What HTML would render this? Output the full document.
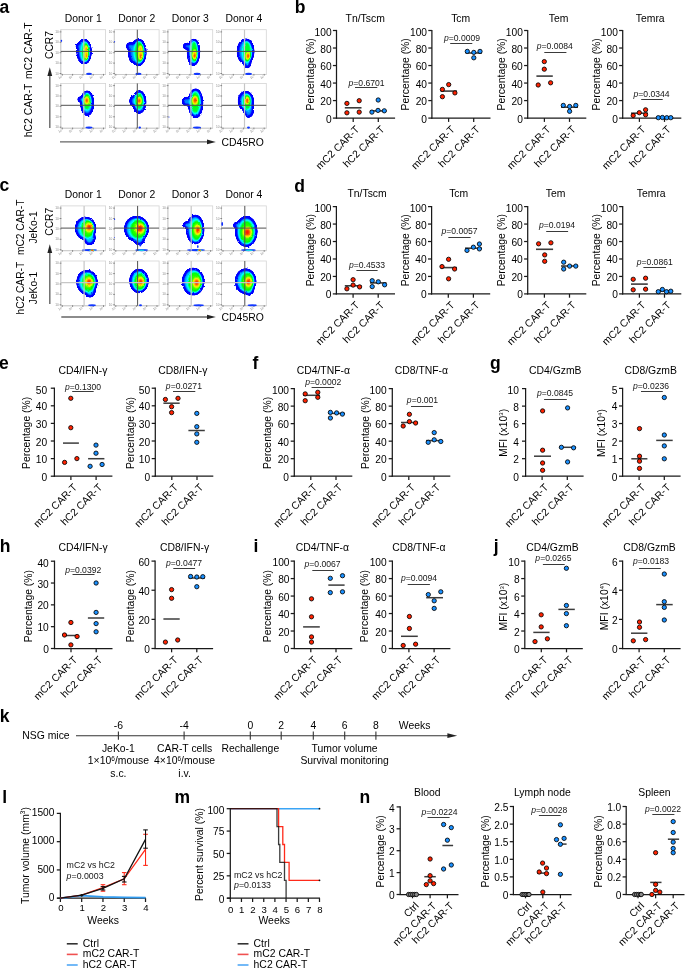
<!DOCTYPE html>
<html><head><meta charset="utf-8"><title>Figure</title>
<style>
html,body{margin:0;padding:0;background:#fff;}
body{width:685px;height:968px;overflow:hidden;}
svg{display:block;font-family:"Liberation Sans", sans-serif;will-change:transform;}
</style></head><body>
<svg width="685" height="968" viewBox="0 0 685 968">

<defs>
<filter id="jet" x="-40%" y="-40%" width="180%" height="180%" color-interpolation-filters="sRGB">
  <feGaussianBlur in="SourceGraphic" stdDeviation="1.0" result="b"/>
  <feTurbulence type="fractalNoise" baseFrequency="0.45" numOctaves="2" seed="7" result="t"/>
  <feDisplacementMap in="b" in2="t" scale="2.2" xChannelSelector="R" yChannelSelector="G" result="bd"/>
  <feColorMatrix in="bd" type="matrix" values="0 0 0 1 0  0 0 0 1 0  0 0 0 1 0  0 0 0 1 0" result="d"/>
  <feComponentTransfer in="d">
    <feFuncR type="table" tableValues="0 0 0 0 0 0 0 0 0 0 0 0 0 0 0.4 0.85 1 1 1 1 1"/>
    <feFuncG type="table" tableValues="0 0 0 0 0 0 0.1 0.3 0.55 0.8 1 1 1 1 1 1 0.85 0.6 0.3 0.1 0"/>
    <feFuncB type="table" tableValues="1 1 1 1 1 1 1 1 1 1 1 0.7 0.35 0 0 0 0 0 0 0 0"/>
    <feFuncA type="table" tableValues="0 0 1 1 1 1 1 1 1 1 1 1 1 1 1 1 1 1 1 1 1 1 1 1 1 1 1 1 1 1 1 1 1 1 1 1 1 1 1 1"/>
  </feComponentTransfer>
</filter>
</defs>

<rect width="685" height="968" fill="#fff"/>
<text x="-0.6" y="12.5" font-size="17.5" font-weight="bold" fill="#000">a</text>
<text x="294.8" y="12.5" font-size="17.5" font-weight="bold" fill="#000">b</text>
<text x="-0.6" y="191.4" font-size="17.5" font-weight="bold" fill="#000">c</text>
<text x="294.3" y="191.6" font-size="17.5" font-weight="bold" fill="#000">d</text>
<text x="-1" y="369" font-size="17.5" font-weight="bold" fill="#000">e</text>
<text x="252.6" y="368.9" font-size="17.5" font-weight="bold" fill="#000">f</text>
<text x="490" y="369.2" font-size="17.5" font-weight="bold" fill="#000">g</text>
<text x="-0.3" y="551.8" font-size="17.5" font-weight="bold" fill="#000">h</text>
<text x="253.6" y="551.6" font-size="17.5" font-weight="bold" fill="#000">i</text>
<text x="493.8" y="551.6" font-size="17.5" font-weight="bold" fill="#000">j</text>
<text x="-0.3" y="721.5" font-size="17.5" font-weight="bold" fill="#000">k</text>
<text x="2.3" y="802.7" font-size="17.5" font-weight="bold" fill="#000">l</text>
<text x="174.6" y="802.9" font-size="17.5" font-weight="bold" fill="#000">m</text>
<text x="359.6" y="802.7" font-size="17.5" font-weight="bold" fill="#000">n</text>
<line x1="336.5" y1="29.9" x2="336.5" y2="118.7" stroke="#1a1a1a" stroke-width="1.25"/>
<line x1="335.9" y1="118.1" x2="395.1" y2="118.1" stroke="#1a1a1a" stroke-width="1.25"/>
<line x1="332.9" y1="118.1" x2="336.5" y2="118.1" stroke="#1a1a1a" stroke-width="1.25"/>
<text x="331.6" y="122.6" font-size="10.2" text-anchor="end">0</text>
<line x1="332.9" y1="100.58" x2="336.5" y2="100.58" stroke="#1a1a1a" stroke-width="1.25"/>
<text x="331.6" y="105.08" font-size="10.2" text-anchor="end">20</text>
<line x1="332.9" y1="83.06" x2="336.5" y2="83.06" stroke="#1a1a1a" stroke-width="1.25"/>
<text x="331.6" y="87.56" font-size="10.2" text-anchor="end">40</text>
<line x1="332.9" y1="65.54" x2="336.5" y2="65.54" stroke="#1a1a1a" stroke-width="1.25"/>
<text x="331.6" y="70.04" font-size="10.2" text-anchor="end">60</text>
<line x1="332.9" y1="48.02" x2="336.5" y2="48.02" stroke="#1a1a1a" stroke-width="1.25"/>
<text x="331.6" y="52.52" font-size="10.2" text-anchor="end">80</text>
<line x1="332.9" y1="30.5" x2="336.5" y2="30.5" stroke="#1a1a1a" stroke-width="1.25"/>
<text x="331.6" y="36.2" font-size="10.2" text-anchor="end">100</text>
<line x1="353.2" y1="118.1" x2="353.2" y2="121.9" stroke="#1a1a1a" stroke-width="1.25"/>
<line x1="378.3" y1="118.1" x2="378.3" y2="121.9" stroke="#1a1a1a" stroke-width="1.25"/>
<text x="365.2" y="21.8" font-size="10.4" text-anchor="middle">Tn/Tscm</text>
<text x="314" y="74.3" font-size="10.4" text-anchor="middle" transform="rotate(-90 314 74.3)">Percentage (%)</text>
<line x1="344.8" y1="107.8" x2="361.5" y2="107.8" stroke="#3c3c3c" stroke-width="1.6"/>
<line x1="370" y1="110.9" x2="386.5" y2="110.9" stroke="#3c3c3c" stroke-width="1.6"/>
<circle cx="346.9" cy="103.4" r="2.15" fill="#ff2200" stroke="#000" stroke-width="0.85"/>
<circle cx="359.2" cy="100.7" r="2.15" fill="#ff2200" stroke="#000" stroke-width="0.85"/>
<circle cx="346.9" cy="112.8" r="2.15" fill="#ff2200" stroke="#000" stroke-width="0.85"/>
<circle cx="359.2" cy="112.1" r="2.15" fill="#ff2200" stroke="#000" stroke-width="0.85"/>
<circle cx="378.2" cy="100" r="2.15" fill="#1a90ff" stroke="#000" stroke-width="0.85"/>
<circle cx="371.9" cy="112.1" r="2.15" fill="#1a90ff" stroke="#000" stroke-width="0.85"/>
<circle cx="378" cy="110.4" r="2.15" fill="#1a90ff" stroke="#000" stroke-width="0.85"/>
<circle cx="384.3" cy="110.8" r="2.15" fill="#1a90ff" stroke="#000" stroke-width="0.85"/>
<text x="366.6" y="85.8" font-size="8.6" text-anchor="middle" fill="#151515"><tspan font-style="italic">p</tspan>=0.6701</text>
<line x1="355" y1="87.5" x2="377.3" y2="87.5" stroke="#3a3a3a" stroke-width="1"/>
<text x="360.1" y="130" font-size="10.4" text-anchor="end" transform="rotate(-45 360.1 130)">mC2 CAR-T</text>
<text x="385.2" y="130" font-size="10.4" text-anchor="end" transform="rotate(-45 385.2 130)">hC2 CAR-T</text>
<line x1="431.9" y1="29.9" x2="431.9" y2="118.7" stroke="#1a1a1a" stroke-width="1.25"/>
<line x1="431.3" y1="118.1" x2="490.5" y2="118.1" stroke="#1a1a1a" stroke-width="1.25"/>
<line x1="428.3" y1="118.1" x2="431.9" y2="118.1" stroke="#1a1a1a" stroke-width="1.25"/>
<text x="427" y="122.6" font-size="10.2" text-anchor="end">0</text>
<line x1="428.3" y1="100.58" x2="431.9" y2="100.58" stroke="#1a1a1a" stroke-width="1.25"/>
<text x="427" y="105.08" font-size="10.2" text-anchor="end">20</text>
<line x1="428.3" y1="83.06" x2="431.9" y2="83.06" stroke="#1a1a1a" stroke-width="1.25"/>
<text x="427" y="87.56" font-size="10.2" text-anchor="end">40</text>
<line x1="428.3" y1="65.54" x2="431.9" y2="65.54" stroke="#1a1a1a" stroke-width="1.25"/>
<text x="427" y="70.04" font-size="10.2" text-anchor="end">60</text>
<line x1="428.3" y1="48.02" x2="431.9" y2="48.02" stroke="#1a1a1a" stroke-width="1.25"/>
<text x="427" y="52.52" font-size="10.2" text-anchor="end">80</text>
<line x1="428.3" y1="30.5" x2="431.9" y2="30.5" stroke="#1a1a1a" stroke-width="1.25"/>
<text x="427" y="36.2" font-size="10.2" text-anchor="end">100</text>
<line x1="448.6" y1="118.1" x2="448.6" y2="121.9" stroke="#1a1a1a" stroke-width="1.25"/>
<line x1="473.7" y1="118.1" x2="473.7" y2="121.9" stroke="#1a1a1a" stroke-width="1.25"/>
<text x="460.7" y="21.8" font-size="10.4" text-anchor="middle">Tcm</text>
<text x="409.4" y="74.3" font-size="10.4" text-anchor="middle" transform="rotate(-90 409.4 74.3)">Percentage (%)</text>
<line x1="440.5" y1="91.1" x2="457" y2="91.1" stroke="#3c3c3c" stroke-width="1.6"/>
<line x1="465.5" y1="53" x2="482" y2="53" stroke="#3c3c3c" stroke-width="1.6"/>
<circle cx="442.4" cy="89.4" r="2.15" fill="#ff2200" stroke="#000" stroke-width="0.85"/>
<circle cx="448.7" cy="84.6" r="2.15" fill="#ff2200" stroke="#000" stroke-width="0.85"/>
<circle cx="442.4" cy="96.7" r="2.15" fill="#ff2200" stroke="#000" stroke-width="0.85"/>
<circle cx="454.9" cy="92.9" r="2.15" fill="#ff2200" stroke="#000" stroke-width="0.85"/>
<circle cx="467.3" cy="51.4" r="2.15" fill="#1a90ff" stroke="#000" stroke-width="0.85"/>
<circle cx="473.8" cy="52.4" r="2.15" fill="#1a90ff" stroke="#000" stroke-width="0.85"/>
<circle cx="480" cy="51.4" r="2.15" fill="#1a90ff" stroke="#000" stroke-width="0.85"/>
<circle cx="473.8" cy="57.8" r="2.15" fill="#1a90ff" stroke="#000" stroke-width="0.85"/>
<text x="462" y="40.9" font-size="8.6" text-anchor="middle" fill="#151515"><tspan font-style="italic">p</tspan>=0.0009</text>
<line x1="450.2" y1="43.5" x2="472.3" y2="43.5" stroke="#3a3a3a" stroke-width="1"/>
<text x="455.5" y="130" font-size="10.4" text-anchor="end" transform="rotate(-45 455.5 130)">mC2 CAR-T</text>
<text x="480.6" y="130" font-size="10.4" text-anchor="end" transform="rotate(-45 480.6 130)">hC2 CAR-T</text>
<line x1="527.7" y1="29.9" x2="527.7" y2="118.7" stroke="#1a1a1a" stroke-width="1.25"/>
<line x1="527.1" y1="118.1" x2="586.3" y2="118.1" stroke="#1a1a1a" stroke-width="1.25"/>
<line x1="524.1" y1="118.1" x2="527.7" y2="118.1" stroke="#1a1a1a" stroke-width="1.25"/>
<text x="522.8" y="122.6" font-size="10.2" text-anchor="end">0</text>
<line x1="524.1" y1="100.58" x2="527.7" y2="100.58" stroke="#1a1a1a" stroke-width="1.25"/>
<text x="522.8" y="105.08" font-size="10.2" text-anchor="end">20</text>
<line x1="524.1" y1="83.06" x2="527.7" y2="83.06" stroke="#1a1a1a" stroke-width="1.25"/>
<text x="522.8" y="87.56" font-size="10.2" text-anchor="end">40</text>
<line x1="524.1" y1="65.54" x2="527.7" y2="65.54" stroke="#1a1a1a" stroke-width="1.25"/>
<text x="522.8" y="70.04" font-size="10.2" text-anchor="end">60</text>
<line x1="524.1" y1="48.02" x2="527.7" y2="48.02" stroke="#1a1a1a" stroke-width="1.25"/>
<text x="522.8" y="52.52" font-size="10.2" text-anchor="end">80</text>
<line x1="524.1" y1="30.5" x2="527.7" y2="30.5" stroke="#1a1a1a" stroke-width="1.25"/>
<text x="522.8" y="36.2" font-size="10.2" text-anchor="end">100</text>
<line x1="544.4" y1="118.1" x2="544.4" y2="121.9" stroke="#1a1a1a" stroke-width="1.25"/>
<line x1="569.5" y1="118.1" x2="569.5" y2="121.9" stroke="#1a1a1a" stroke-width="1.25"/>
<text x="558.6" y="21.8" font-size="10.4" text-anchor="middle">Tem</text>
<text x="505.2" y="74.3" font-size="10.4" text-anchor="middle" transform="rotate(-90 505.2 74.3)">Percentage (%)</text>
<line x1="536.4" y1="76.1" x2="552.8" y2="76.1" stroke="#3c3c3c" stroke-width="1.6"/>
<line x1="561" y1="107.2" x2="578" y2="107.2" stroke="#3c3c3c" stroke-width="1.6"/>
<circle cx="544.3" cy="61.6" r="2.15" fill="#ff2200" stroke="#000" stroke-width="0.85"/>
<circle cx="544.3" cy="69.2" r="2.15" fill="#ff2200" stroke="#000" stroke-width="0.85"/>
<circle cx="538.2" cy="85" r="2.15" fill="#ff2200" stroke="#000" stroke-width="0.85"/>
<circle cx="550.6" cy="82.8" r="2.15" fill="#ff2200" stroke="#000" stroke-width="0.85"/>
<circle cx="563.3" cy="105.4" r="2.15" fill="#1a90ff" stroke="#000" stroke-width="0.85"/>
<circle cx="569.6" cy="106.5" r="2.15" fill="#1a90ff" stroke="#000" stroke-width="0.85"/>
<circle cx="575.8" cy="105.4" r="2.15" fill="#1a90ff" stroke="#000" stroke-width="0.85"/>
<circle cx="569.6" cy="111.3" r="2.15" fill="#1a90ff" stroke="#000" stroke-width="0.85"/>
<text x="554.8" y="49.2" font-size="8.6" text-anchor="middle" fill="#151515"><tspan font-style="italic">p</tspan>=0.0084</text>
<line x1="544.3" y1="52.5" x2="566.4" y2="52.5" stroke="#3a3a3a" stroke-width="1"/>
<text x="551.3" y="130" font-size="10.4" text-anchor="end" transform="rotate(-45 551.3 130)">mC2 CAR-T</text>
<text x="576.4" y="130" font-size="10.4" text-anchor="end" transform="rotate(-45 576.4 130)">hC2 CAR-T</text>
<line x1="622.7" y1="29.9" x2="622.7" y2="118.7" stroke="#1a1a1a" stroke-width="1.25"/>
<line x1="622.1" y1="118.1" x2="681.3" y2="118.1" stroke="#1a1a1a" stroke-width="1.25"/>
<line x1="619.1" y1="118.1" x2="622.7" y2="118.1" stroke="#1a1a1a" stroke-width="1.25"/>
<text x="617.8" y="122.6" font-size="10.2" text-anchor="end">0</text>
<line x1="619.1" y1="100.58" x2="622.7" y2="100.58" stroke="#1a1a1a" stroke-width="1.25"/>
<text x="617.8" y="105.08" font-size="10.2" text-anchor="end">20</text>
<line x1="619.1" y1="83.06" x2="622.7" y2="83.06" stroke="#1a1a1a" stroke-width="1.25"/>
<text x="617.8" y="87.56" font-size="10.2" text-anchor="end">40</text>
<line x1="619.1" y1="65.54" x2="622.7" y2="65.54" stroke="#1a1a1a" stroke-width="1.25"/>
<text x="617.8" y="70.04" font-size="10.2" text-anchor="end">60</text>
<line x1="619.1" y1="48.02" x2="622.7" y2="48.02" stroke="#1a1a1a" stroke-width="1.25"/>
<text x="617.8" y="52.52" font-size="10.2" text-anchor="end">80</text>
<line x1="619.1" y1="30.5" x2="622.7" y2="30.5" stroke="#1a1a1a" stroke-width="1.25"/>
<text x="617.8" y="36.2" font-size="10.2" text-anchor="end">100</text>
<line x1="639.4" y1="118.1" x2="639.4" y2="121.9" stroke="#1a1a1a" stroke-width="1.25"/>
<line x1="664.5" y1="118.1" x2="664.5" y2="121.9" stroke="#1a1a1a" stroke-width="1.25"/>
<text x="650.2" y="21.8" font-size="10.4" text-anchor="middle">Temra</text>
<text x="600.2" y="74.3" font-size="10.4" text-anchor="middle" transform="rotate(-90 600.2 74.3)">Percentage (%)</text>
<line x1="631" y1="113.2" x2="648" y2="113.2" stroke="#3c3c3c" stroke-width="1.6"/>
<line x1="656" y1="117.6" x2="673" y2="117.6" stroke="#3c3c3c" stroke-width="1.6"/>
<circle cx="633.2" cy="115.5" r="2.15" fill="#ff2200" stroke="#000" stroke-width="0.85"/>
<circle cx="639.3" cy="112.7" r="2.15" fill="#ff2200" stroke="#000" stroke-width="0.85"/>
<circle cx="645.6" cy="109.8" r="2.15" fill="#ff2200" stroke="#000" stroke-width="0.85"/>
<circle cx="645.6" cy="114.8" r="2.15" fill="#ff2200" stroke="#000" stroke-width="0.85"/>
<circle cx="658.3" cy="117.7" r="2.15" fill="#1a90ff" stroke="#000" stroke-width="0.85"/>
<circle cx="662.4" cy="117.5" r="2.15" fill="#1a90ff" stroke="#000" stroke-width="0.85"/>
<circle cx="666.8" cy="117.7" r="2.15" fill="#1a90ff" stroke="#000" stroke-width="0.85"/>
<circle cx="670.8" cy="117.7" r="2.15" fill="#1a90ff" stroke="#000" stroke-width="0.85"/>
<text x="651.6" y="97.1" font-size="8.6" text-anchor="middle" fill="#151515"><tspan font-style="italic">p</tspan>=0.0344</text>
<line x1="641.2" y1="99.5" x2="662.7" y2="99.5" stroke="#3a3a3a" stroke-width="1"/>
<text x="646.3" y="130" font-size="10.4" text-anchor="end" transform="rotate(-45 646.3 130)">mC2 CAR-T</text>
<text x="671.4" y="130" font-size="10.4" text-anchor="end" transform="rotate(-45 671.4 130)">hC2 CAR-T</text>
<line x1="336.4" y1="206" x2="336.4" y2="294.5" stroke="#1a1a1a" stroke-width="1.25"/>
<line x1="335.8" y1="293.9" x2="395" y2="293.9" stroke="#1a1a1a" stroke-width="1.25"/>
<line x1="332.8" y1="293.9" x2="336.4" y2="293.9" stroke="#1a1a1a" stroke-width="1.25"/>
<text x="331.5" y="298.4" font-size="10.2" text-anchor="end">0</text>
<line x1="332.8" y1="276.44" x2="336.4" y2="276.44" stroke="#1a1a1a" stroke-width="1.25"/>
<text x="331.5" y="280.94" font-size="10.2" text-anchor="end">20</text>
<line x1="332.8" y1="258.98" x2="336.4" y2="258.98" stroke="#1a1a1a" stroke-width="1.25"/>
<text x="331.5" y="263.48" font-size="10.2" text-anchor="end">40</text>
<line x1="332.8" y1="241.52" x2="336.4" y2="241.52" stroke="#1a1a1a" stroke-width="1.25"/>
<text x="331.5" y="246.02" font-size="10.2" text-anchor="end">60</text>
<line x1="332.8" y1="224.06" x2="336.4" y2="224.06" stroke="#1a1a1a" stroke-width="1.25"/>
<text x="331.5" y="228.56" font-size="10.2" text-anchor="end">80</text>
<line x1="332.8" y1="206.6" x2="336.4" y2="206.6" stroke="#1a1a1a" stroke-width="1.25"/>
<text x="331.5" y="212.3" font-size="10.2" text-anchor="end">100</text>
<line x1="353.1" y1="293.9" x2="353.1" y2="297.7" stroke="#1a1a1a" stroke-width="1.25"/>
<line x1="378.2" y1="293.9" x2="378.2" y2="297.7" stroke="#1a1a1a" stroke-width="1.25"/>
<text x="367.1" y="197.4" font-size="10.4" text-anchor="middle">Tn/Tscm</text>
<text x="313.9" y="250.25" font-size="10.4" text-anchor="middle" transform="rotate(-90 313.9 250.25)">Percentage (%)</text>
<line x1="344.8" y1="285.8" x2="361.5" y2="285.8" stroke="#3c3c3c" stroke-width="1.6"/>
<line x1="370" y1="282.9" x2="386.5" y2="282.9" stroke="#3c3c3c" stroke-width="1.6"/>
<circle cx="346.9" cy="288.8" r="2.15" fill="#ff2200" stroke="#000" stroke-width="0.85"/>
<circle cx="353.1" cy="279.7" r="2.15" fill="#ff2200" stroke="#000" stroke-width="0.85"/>
<circle cx="353.1" cy="285.1" r="2.15" fill="#ff2200" stroke="#000" stroke-width="0.85"/>
<circle cx="359.6" cy="286.9" r="2.15" fill="#ff2200" stroke="#000" stroke-width="0.85"/>
<circle cx="372.2" cy="280.7" r="2.15" fill="#1a90ff" stroke="#000" stroke-width="0.85"/>
<circle cx="372.2" cy="286.6" r="2.15" fill="#1a90ff" stroke="#000" stroke-width="0.85"/>
<circle cx="378.3" cy="281.8" r="2.15" fill="#1a90ff" stroke="#000" stroke-width="0.85"/>
<circle cx="384.6" cy="284.8" r="2.15" fill="#1a90ff" stroke="#000" stroke-width="0.85"/>
<text x="367" y="267.7" font-size="8.6" text-anchor="middle" fill="#151515"><tspan font-style="italic">p</tspan>=0.4533</text>
<line x1="356.4" y1="270.5" x2="377.6" y2="270.5" stroke="#3a3a3a" stroke-width="1"/>
<text x="360" y="305.8" font-size="10.4" text-anchor="end" transform="rotate(-45 360 305.8)">mC2 CAR-T</text>
<text x="385.1" y="305.8" font-size="10.4" text-anchor="end" transform="rotate(-45 385.1 305.8)">hC2 CAR-T</text>
<line x1="431.6" y1="206" x2="431.6" y2="294.5" stroke="#1a1a1a" stroke-width="1.25"/>
<line x1="431" y1="293.9" x2="490.2" y2="293.9" stroke="#1a1a1a" stroke-width="1.25"/>
<line x1="428" y1="293.9" x2="431.6" y2="293.9" stroke="#1a1a1a" stroke-width="1.25"/>
<text x="426.7" y="298.4" font-size="10.2" text-anchor="end">0</text>
<line x1="428" y1="276.44" x2="431.6" y2="276.44" stroke="#1a1a1a" stroke-width="1.25"/>
<text x="426.7" y="280.94" font-size="10.2" text-anchor="end">20</text>
<line x1="428" y1="258.98" x2="431.6" y2="258.98" stroke="#1a1a1a" stroke-width="1.25"/>
<text x="426.7" y="263.48" font-size="10.2" text-anchor="end">40</text>
<line x1="428" y1="241.52" x2="431.6" y2="241.52" stroke="#1a1a1a" stroke-width="1.25"/>
<text x="426.7" y="246.02" font-size="10.2" text-anchor="end">60</text>
<line x1="428" y1="224.06" x2="431.6" y2="224.06" stroke="#1a1a1a" stroke-width="1.25"/>
<text x="426.7" y="228.56" font-size="10.2" text-anchor="end">80</text>
<line x1="428" y1="206.6" x2="431.6" y2="206.6" stroke="#1a1a1a" stroke-width="1.25"/>
<text x="426.7" y="212.3" font-size="10.2" text-anchor="end">100</text>
<line x1="448.3" y1="293.9" x2="448.3" y2="297.7" stroke="#1a1a1a" stroke-width="1.25"/>
<line x1="473.4" y1="293.9" x2="473.4" y2="297.7" stroke="#1a1a1a" stroke-width="1.25"/>
<text x="458.7" y="197.4" font-size="10.4" text-anchor="middle">Tcm</text>
<text x="409.1" y="250.25" font-size="10.4" text-anchor="middle" transform="rotate(-90 409.1 250.25)">Percentage (%)</text>
<line x1="440.5" y1="267.6" x2="457" y2="267.6" stroke="#3c3c3c" stroke-width="1.6"/>
<line x1="465" y1="248.2" x2="482" y2="248.2" stroke="#3c3c3c" stroke-width="1.6"/>
<circle cx="442" cy="266.6" r="2.15" fill="#ff2200" stroke="#000" stroke-width="0.85"/>
<circle cx="448.6" cy="259.3" r="2.15" fill="#ff2200" stroke="#000" stroke-width="0.85"/>
<circle cx="454.6" cy="269" r="2.15" fill="#ff2200" stroke="#000" stroke-width="0.85"/>
<circle cx="448.6" cy="278.8" r="2.15" fill="#ff2200" stroke="#000" stroke-width="0.85"/>
<circle cx="467" cy="250.4" r="2.15" fill="#1a90ff" stroke="#000" stroke-width="0.85"/>
<circle cx="473.4" cy="247.2" r="2.15" fill="#1a90ff" stroke="#000" stroke-width="0.85"/>
<circle cx="479.4" cy="244" r="2.15" fill="#1a90ff" stroke="#000" stroke-width="0.85"/>
<circle cx="479.4" cy="248.9" r="2.15" fill="#1a90ff" stroke="#000" stroke-width="0.85"/>
<text x="459.5" y="234.2" font-size="8.6" text-anchor="middle" fill="#151515"><tspan font-style="italic">p</tspan>=0.0057</text>
<line x1="448.3" y1="237.5" x2="470.6" y2="237.5" stroke="#3a3a3a" stroke-width="1"/>
<text x="455.2" y="305.8" font-size="10.4" text-anchor="end" transform="rotate(-45 455.2 305.8)">mC2 CAR-T</text>
<text x="480.3" y="305.8" font-size="10.4" text-anchor="end" transform="rotate(-45 480.3 305.8)">hC2 CAR-T</text>
<line x1="527.7" y1="206" x2="527.7" y2="294.5" stroke="#1a1a1a" stroke-width="1.25"/>
<line x1="527.1" y1="293.9" x2="586.3" y2="293.9" stroke="#1a1a1a" stroke-width="1.25"/>
<line x1="524.1" y1="293.9" x2="527.7" y2="293.9" stroke="#1a1a1a" stroke-width="1.25"/>
<text x="522.8" y="298.4" font-size="10.2" text-anchor="end">0</text>
<line x1="524.1" y1="276.44" x2="527.7" y2="276.44" stroke="#1a1a1a" stroke-width="1.25"/>
<text x="522.8" y="280.94" font-size="10.2" text-anchor="end">20</text>
<line x1="524.1" y1="258.98" x2="527.7" y2="258.98" stroke="#1a1a1a" stroke-width="1.25"/>
<text x="522.8" y="263.48" font-size="10.2" text-anchor="end">40</text>
<line x1="524.1" y1="241.52" x2="527.7" y2="241.52" stroke="#1a1a1a" stroke-width="1.25"/>
<text x="522.8" y="246.02" font-size="10.2" text-anchor="end">60</text>
<line x1="524.1" y1="224.06" x2="527.7" y2="224.06" stroke="#1a1a1a" stroke-width="1.25"/>
<text x="522.8" y="228.56" font-size="10.2" text-anchor="end">80</text>
<line x1="524.1" y1="206.6" x2="527.7" y2="206.6" stroke="#1a1a1a" stroke-width="1.25"/>
<text x="522.8" y="212.3" font-size="10.2" text-anchor="end">100</text>
<line x1="544.4" y1="293.9" x2="544.4" y2="297.7" stroke="#1a1a1a" stroke-width="1.25"/>
<line x1="569.5" y1="293.9" x2="569.5" y2="297.7" stroke="#1a1a1a" stroke-width="1.25"/>
<text x="555.6" y="197.4" font-size="10.4" text-anchor="middle">Tem</text>
<text x="505.2" y="250.25" font-size="10.4" text-anchor="middle" transform="rotate(-90 505.2 250.25)">Percentage (%)</text>
<line x1="536" y1="249.3" x2="553.1" y2="249.3" stroke="#3c3c3c" stroke-width="1.6"/>
<line x1="561" y1="266" x2="578" y2="266" stroke="#3c3c3c" stroke-width="1.6"/>
<circle cx="538.6" cy="243.8" r="2.15" fill="#ff2200" stroke="#000" stroke-width="0.85"/>
<circle cx="550.9" cy="242.8" r="2.15" fill="#ff2200" stroke="#000" stroke-width="0.85"/>
<circle cx="544.7" cy="254.9" r="2.15" fill="#ff2200" stroke="#000" stroke-width="0.85"/>
<circle cx="544.7" cy="261.3" r="2.15" fill="#ff2200" stroke="#000" stroke-width="0.85"/>
<circle cx="563.7" cy="262.2" r="2.15" fill="#1a90ff" stroke="#000" stroke-width="0.85"/>
<circle cx="563.7" cy="269" r="2.15" fill="#1a90ff" stroke="#000" stroke-width="0.85"/>
<circle cx="569.6" cy="266.1" r="2.15" fill="#1a90ff" stroke="#000" stroke-width="0.85"/>
<circle cx="575.8" cy="266.1" r="2.15" fill="#1a90ff" stroke="#000" stroke-width="0.85"/>
<text x="557" y="228.3" font-size="8.6" text-anchor="middle" fill="#151515"><tspan font-style="italic">p</tspan>=0.0194</text>
<line x1="546.2" y1="231.5" x2="568.1" y2="231.5" stroke="#3a3a3a" stroke-width="1"/>
<text x="551.3" y="305.8" font-size="10.4" text-anchor="end" transform="rotate(-45 551.3 305.8)">mC2 CAR-T</text>
<text x="576.4" y="305.8" font-size="10.4" text-anchor="end" transform="rotate(-45 576.4 305.8)">hC2 CAR-T</text>
<line x1="622.7" y1="206" x2="622.7" y2="294.5" stroke="#1a1a1a" stroke-width="1.25"/>
<line x1="622.1" y1="293.9" x2="681.3" y2="293.9" stroke="#1a1a1a" stroke-width="1.25"/>
<line x1="619.1" y1="293.9" x2="622.7" y2="293.9" stroke="#1a1a1a" stroke-width="1.25"/>
<text x="617.8" y="298.4" font-size="10.2" text-anchor="end">0</text>
<line x1="619.1" y1="276.44" x2="622.7" y2="276.44" stroke="#1a1a1a" stroke-width="1.25"/>
<text x="617.8" y="280.94" font-size="10.2" text-anchor="end">20</text>
<line x1="619.1" y1="258.98" x2="622.7" y2="258.98" stroke="#1a1a1a" stroke-width="1.25"/>
<text x="617.8" y="263.48" font-size="10.2" text-anchor="end">40</text>
<line x1="619.1" y1="241.52" x2="622.7" y2="241.52" stroke="#1a1a1a" stroke-width="1.25"/>
<text x="617.8" y="246.02" font-size="10.2" text-anchor="end">60</text>
<line x1="619.1" y1="224.06" x2="622.7" y2="224.06" stroke="#1a1a1a" stroke-width="1.25"/>
<text x="617.8" y="228.56" font-size="10.2" text-anchor="end">80</text>
<line x1="619.1" y1="206.6" x2="622.7" y2="206.6" stroke="#1a1a1a" stroke-width="1.25"/>
<text x="617.8" y="212.3" font-size="10.2" text-anchor="end">100</text>
<line x1="639.4" y1="293.9" x2="639.4" y2="297.7" stroke="#1a1a1a" stroke-width="1.25"/>
<line x1="664.5" y1="293.9" x2="664.5" y2="297.7" stroke="#1a1a1a" stroke-width="1.25"/>
<text x="651.2" y="197.4" font-size="10.4" text-anchor="middle">Temra</text>
<text x="600.2" y="250.25" font-size="10.4" text-anchor="middle" transform="rotate(-90 600.2 250.25)">Percentage (%)</text>
<line x1="631" y1="284.1" x2="647.8" y2="284.1" stroke="#3c3c3c" stroke-width="1.6"/>
<line x1="656" y1="290.9" x2="673" y2="290.9" stroke="#3c3c3c" stroke-width="1.6"/>
<circle cx="633.2" cy="279.3" r="2.15" fill="#ff2200" stroke="#000" stroke-width="0.85"/>
<circle cx="645.6" cy="278.2" r="2.15" fill="#ff2200" stroke="#000" stroke-width="0.85"/>
<circle cx="633.2" cy="289.8" r="2.15" fill="#ff2200" stroke="#000" stroke-width="0.85"/>
<circle cx="645.6" cy="289.2" r="2.15" fill="#ff2200" stroke="#000" stroke-width="0.85"/>
<circle cx="658.3" cy="291.7" r="2.15" fill="#1a90ff" stroke="#000" stroke-width="0.85"/>
<circle cx="662.4" cy="289.5" r="2.15" fill="#1a90ff" stroke="#000" stroke-width="0.85"/>
<circle cx="666.5" cy="291.7" r="2.15" fill="#1a90ff" stroke="#000" stroke-width="0.85"/>
<circle cx="670.8" cy="291.2" r="2.15" fill="#1a90ff" stroke="#000" stroke-width="0.85"/>
<text x="654.7" y="264.5" font-size="8.6" text-anchor="middle" fill="#151515"><tspan font-style="italic">p</tspan>=0.0861</text>
<line x1="643.4" y1="267.5" x2="666" y2="267.5" stroke="#3a3a3a" stroke-width="1"/>
<text x="646.3" y="305.8" font-size="10.4" text-anchor="end" transform="rotate(-45 646.3 305.8)">mC2 CAR-T</text>
<text x="671.4" y="305.8" font-size="10.4" text-anchor="end" transform="rotate(-45 671.4 305.8)">hC2 CAR-T</text>
<line x1="54.4" y1="387.6" x2="54.4" y2="476.8" stroke="#1a1a1a" stroke-width="1.25"/>
<line x1="53.8" y1="476.2" x2="112.4" y2="476.2" stroke="#1a1a1a" stroke-width="1.25"/>
<line x1="50.8" y1="476.2" x2="54.4" y2="476.2" stroke="#1a1a1a" stroke-width="1.25"/>
<text x="47.2" y="480.7" font-size="10.2" text-anchor="end">0</text>
<line x1="50.8" y1="458.6" x2="54.4" y2="458.6" stroke="#1a1a1a" stroke-width="1.25"/>
<text x="47.2" y="463.1" font-size="10.2" text-anchor="end">10</text>
<line x1="50.8" y1="441" x2="54.4" y2="441" stroke="#1a1a1a" stroke-width="1.25"/>
<text x="47.2" y="445.5" font-size="10.2" text-anchor="end">20</text>
<line x1="50.8" y1="423.4" x2="54.4" y2="423.4" stroke="#1a1a1a" stroke-width="1.25"/>
<text x="47.2" y="427.9" font-size="10.2" text-anchor="end">30</text>
<line x1="50.8" y1="405.8" x2="54.4" y2="405.8" stroke="#1a1a1a" stroke-width="1.25"/>
<text x="47.2" y="410.3" font-size="10.2" text-anchor="end">40</text>
<line x1="50.8" y1="388.2" x2="54.4" y2="388.2" stroke="#1a1a1a" stroke-width="1.25"/>
<text x="47.2" y="393.5" font-size="10.2" text-anchor="end">50</text>
<line x1="70.9" y1="476.2" x2="70.9" y2="480" stroke="#1a1a1a" stroke-width="1.25"/>
<line x1="96.1" y1="476.2" x2="96.1" y2="480" stroke="#1a1a1a" stroke-width="1.25"/>
<text x="83" y="374.3" font-size="10.4" text-anchor="middle">CD4/IFN-&#947;</text>
<text x="29.9" y="432.9" font-size="10.4" text-anchor="middle" transform="rotate(-90 29.9 432.9)">Percentage (%)</text>
<line x1="63" y1="443.1" x2="78.9" y2="443.1" stroke="#3c3c3c" stroke-width="1.5"/>
<line x1="88.1" y1="458.7" x2="104.4" y2="458.7" stroke="#3c3c3c" stroke-width="1.5"/>
<circle cx="70.8" cy="398.3" r="2.15" fill="#ff2200" stroke="#000" stroke-width="0.85"/>
<circle cx="70.8" cy="427.7" r="2.15" fill="#ff2200" stroke="#000" stroke-width="0.85"/>
<circle cx="64.6" cy="462.4" r="2.15" fill="#ff2200" stroke="#000" stroke-width="0.85"/>
<circle cx="76.9" cy="458.6" r="2.15" fill="#ff2200" stroke="#000" stroke-width="0.85"/>
<circle cx="96" cy="445.1" r="2.15" fill="#1a90ff" stroke="#000" stroke-width="0.85"/>
<circle cx="96" cy="453.2" r="2.15" fill="#1a90ff" stroke="#000" stroke-width="0.85"/>
<circle cx="90.1" cy="466.3" r="2.15" fill="#1a90ff" stroke="#000" stroke-width="0.85"/>
<circle cx="102.1" cy="464.5" r="2.15" fill="#1a90ff" stroke="#000" stroke-width="0.85"/>
<text x="83" y="389.5" font-size="8.6" text-anchor="middle" fill="#151515"><tspan font-style="italic">p</tspan>=0.1300</text>
<line x1="72.2" y1="391.5" x2="93.7" y2="391.5" stroke="#3a3a3a" stroke-width="1"/>
<text x="77.8" y="488.1" font-size="10.4" text-anchor="end" transform="rotate(-45 77.8 488.1)">mC2 CAR-T</text>
<text x="103" y="488.1" font-size="10.4" text-anchor="end" transform="rotate(-45 103 488.1)">hC2 CAR-T</text>
<line x1="155.3" y1="387.6" x2="155.3" y2="476.8" stroke="#1a1a1a" stroke-width="1.25"/>
<line x1="154.7" y1="476.2" x2="213.3" y2="476.2" stroke="#1a1a1a" stroke-width="1.25"/>
<line x1="151.7" y1="476.2" x2="155.3" y2="476.2" stroke="#1a1a1a" stroke-width="1.25"/>
<text x="150.1" y="480.7" font-size="10.2" text-anchor="end">0</text>
<line x1="151.7" y1="458.6" x2="155.3" y2="458.6" stroke="#1a1a1a" stroke-width="1.25"/>
<text x="150.1" y="463.1" font-size="10.2" text-anchor="end">10</text>
<line x1="151.7" y1="441" x2="155.3" y2="441" stroke="#1a1a1a" stroke-width="1.25"/>
<text x="150.1" y="445.5" font-size="10.2" text-anchor="end">20</text>
<line x1="151.7" y1="423.4" x2="155.3" y2="423.4" stroke="#1a1a1a" stroke-width="1.25"/>
<text x="150.1" y="427.9" font-size="10.2" text-anchor="end">30</text>
<line x1="151.7" y1="405.8" x2="155.3" y2="405.8" stroke="#1a1a1a" stroke-width="1.25"/>
<text x="150.1" y="410.3" font-size="10.2" text-anchor="end">40</text>
<line x1="151.7" y1="388.2" x2="155.3" y2="388.2" stroke="#1a1a1a" stroke-width="1.25"/>
<text x="150.1" y="393.5" font-size="10.2" text-anchor="end">50</text>
<line x1="171.8" y1="476.2" x2="171.8" y2="480" stroke="#1a1a1a" stroke-width="1.25"/>
<line x1="197" y1="476.2" x2="197" y2="480" stroke="#1a1a1a" stroke-width="1.25"/>
<text x="182.9" y="374.3" font-size="10.4" text-anchor="middle">CD8/IFN-&#947;</text>
<text x="133.5" y="433" font-size="10.4" text-anchor="middle" transform="rotate(-90 133.5 433)">Percentage (%)</text>
<line x1="163.4" y1="403.2" x2="179.7" y2="403.2" stroke="#3c3c3c" stroke-width="1.5"/>
<line x1="188.4" y1="430.5" x2="204.8" y2="430.5" stroke="#3c3c3c" stroke-width="1.5"/>
<circle cx="165.4" cy="399.5" r="2.15" fill="#ff2200" stroke="#000" stroke-width="0.85"/>
<circle cx="178" cy="398.3" r="2.15" fill="#ff2200" stroke="#000" stroke-width="0.85"/>
<circle cx="171.6" cy="406.7" r="2.15" fill="#ff2200" stroke="#000" stroke-width="0.85"/>
<circle cx="171.6" cy="412.6" r="2.15" fill="#ff2200" stroke="#000" stroke-width="0.85"/>
<circle cx="196.8" cy="413.4" r="2.15" fill="#1a90ff" stroke="#000" stroke-width="0.85"/>
<circle cx="196.8" cy="426.7" r="2.15" fill="#1a90ff" stroke="#000" stroke-width="0.85"/>
<circle cx="196.8" cy="433.9" r="2.15" fill="#1a90ff" stroke="#000" stroke-width="0.85"/>
<circle cx="196.8" cy="442.3" r="2.15" fill="#1a90ff" stroke="#000" stroke-width="0.85"/>
<text x="183.9" y="388.7" font-size="8.6" text-anchor="middle" fill="#151515"><tspan font-style="italic">p</tspan>=0.0271</text>
<line x1="173" y1="391.5" x2="195.3" y2="391.5" stroke="#3a3a3a" stroke-width="1"/>
<text x="178.7" y="488.1" font-size="10.4" text-anchor="end" transform="rotate(-45 178.7 488.1)">mC2 CAR-T</text>
<text x="203.9" y="488.1" font-size="10.4" text-anchor="end" transform="rotate(-45 203.9 488.1)">hC2 CAR-T</text>
<line x1="294.3" y1="388" x2="294.3" y2="476.8" stroke="#1a1a1a" stroke-width="1.25"/>
<line x1="293.7" y1="476.2" x2="352.3" y2="476.2" stroke="#1a1a1a" stroke-width="1.25"/>
<line x1="290.7" y1="476.2" x2="294.3" y2="476.2" stroke="#1a1a1a" stroke-width="1.25"/>
<text x="289" y="480.7" font-size="10.2" text-anchor="end">0</text>
<line x1="290.7" y1="458.68" x2="294.3" y2="458.68" stroke="#1a1a1a" stroke-width="1.25"/>
<text x="289" y="463.18" font-size="10.2" text-anchor="end">20</text>
<line x1="290.7" y1="441.16" x2="294.3" y2="441.16" stroke="#1a1a1a" stroke-width="1.25"/>
<text x="289" y="445.66" font-size="10.2" text-anchor="end">40</text>
<line x1="290.7" y1="423.64" x2="294.3" y2="423.64" stroke="#1a1a1a" stroke-width="1.25"/>
<text x="289" y="428.14" font-size="10.2" text-anchor="end">60</text>
<line x1="290.7" y1="406.12" x2="294.3" y2="406.12" stroke="#1a1a1a" stroke-width="1.25"/>
<text x="289" y="410.62" font-size="10.2" text-anchor="end">80</text>
<line x1="290.7" y1="388.6" x2="294.3" y2="388.6" stroke="#1a1a1a" stroke-width="1.25"/>
<text x="289" y="393.9" font-size="10.2" text-anchor="end">100</text>
<line x1="310.8" y1="476.2" x2="310.8" y2="480" stroke="#1a1a1a" stroke-width="1.25"/>
<line x1="336" y1="476.2" x2="336" y2="480" stroke="#1a1a1a" stroke-width="1.25"/>
<text x="323.3" y="374.3" font-size="10.4" text-anchor="middle">CD4/TNF-&#945;</text>
<text x="270.8" y="432.9" font-size="10.4" text-anchor="middle" transform="rotate(-90 270.8 432.9)">Percentage (%)</text>
<line x1="303" y1="395.3" x2="320" y2="395.3" stroke="#3c3c3c" stroke-width="1.5"/>
<line x1="328" y1="413.4" x2="345" y2="413.4" stroke="#3c3c3c" stroke-width="1.5"/>
<circle cx="305.2" cy="393.9" r="2.15" fill="#ff2200" stroke="#000" stroke-width="0.85"/>
<circle cx="317.8" cy="392.3" r="2.15" fill="#ff2200" stroke="#000" stroke-width="0.85"/>
<circle cx="317.8" cy="397.3" r="2.15" fill="#ff2200" stroke="#000" stroke-width="0.85"/>
<circle cx="305.2" cy="400.7" r="2.15" fill="#ff2200" stroke="#000" stroke-width="0.85"/>
<circle cx="330.4" cy="412.4" r="2.15" fill="#1a90ff" stroke="#000" stroke-width="0.85"/>
<circle cx="336.6" cy="412.9" r="2.15" fill="#1a90ff" stroke="#000" stroke-width="0.85"/>
<circle cx="342.4" cy="414.1" r="2.15" fill="#1a90ff" stroke="#000" stroke-width="0.85"/>
<circle cx="330.4" cy="418" r="2.15" fill="#1a90ff" stroke="#000" stroke-width="0.85"/>
<text x="323.2" y="385.3" font-size="8.6" text-anchor="middle" fill="#151515"><tspan font-style="italic">p</tspan>=0.0002</text>
<line x1="311.6" y1="387.5" x2="334.1" y2="387.5" stroke="#3a3a3a" stroke-width="1"/>
<text x="317.7" y="488.1" font-size="10.4" text-anchor="end" transform="rotate(-45 317.7 488.1)">mC2 CAR-T</text>
<text x="342.9" y="488.1" font-size="10.4" text-anchor="end" transform="rotate(-45 342.9 488.1)">hC2 CAR-T</text>
<line x1="392.3" y1="388" x2="392.3" y2="476.8" stroke="#1a1a1a" stroke-width="1.25"/>
<line x1="391.7" y1="476.2" x2="450.3" y2="476.2" stroke="#1a1a1a" stroke-width="1.25"/>
<line x1="388.7" y1="476.2" x2="392.3" y2="476.2" stroke="#1a1a1a" stroke-width="1.25"/>
<text x="386.6" y="480.7" font-size="10.2" text-anchor="end">0</text>
<line x1="388.7" y1="458.68" x2="392.3" y2="458.68" stroke="#1a1a1a" stroke-width="1.25"/>
<text x="386.6" y="463.18" font-size="10.2" text-anchor="end">20</text>
<line x1="388.7" y1="441.16" x2="392.3" y2="441.16" stroke="#1a1a1a" stroke-width="1.25"/>
<text x="386.6" y="445.66" font-size="10.2" text-anchor="end">40</text>
<line x1="388.7" y1="423.64" x2="392.3" y2="423.64" stroke="#1a1a1a" stroke-width="1.25"/>
<text x="386.6" y="428.14" font-size="10.2" text-anchor="end">60</text>
<line x1="388.7" y1="406.12" x2="392.3" y2="406.12" stroke="#1a1a1a" stroke-width="1.25"/>
<text x="386.6" y="410.62" font-size="10.2" text-anchor="end">80</text>
<line x1="388.7" y1="388.6" x2="392.3" y2="388.6" stroke="#1a1a1a" stroke-width="1.25"/>
<text x="386.6" y="393.9" font-size="10.2" text-anchor="end">100</text>
<line x1="408.8" y1="476.2" x2="408.8" y2="480" stroke="#1a1a1a" stroke-width="1.25"/>
<line x1="434" y1="476.2" x2="434" y2="480" stroke="#1a1a1a" stroke-width="1.25"/>
<text x="421.4" y="374.3" font-size="10.4" text-anchor="middle">CD8/TNF-&#945;</text>
<text x="369.3" y="432.9" font-size="10.4" text-anchor="middle" transform="rotate(-90 369.3 432.9)">Percentage (%)</text>
<line x1="401" y1="422.5" x2="417.8" y2="422.5" stroke="#3c3c3c" stroke-width="1.5"/>
<line x1="426" y1="440.6" x2="442.5" y2="440.6" stroke="#3c3c3c" stroke-width="1.5"/>
<circle cx="409.4" cy="414.3" r="2.15" fill="#ff2200" stroke="#000" stroke-width="0.85"/>
<circle cx="409.4" cy="421.6" r="2.15" fill="#ff2200" stroke="#000" stroke-width="0.85"/>
<circle cx="403.2" cy="426" r="2.15" fill="#ff2200" stroke="#000" stroke-width="0.85"/>
<circle cx="415.6" cy="423" r="2.15" fill="#ff2200" stroke="#000" stroke-width="0.85"/>
<circle cx="434.2" cy="432.6" r="2.15" fill="#1a90ff" stroke="#000" stroke-width="0.85"/>
<circle cx="434.2" cy="439.8" r="2.15" fill="#1a90ff" stroke="#000" stroke-width="0.85"/>
<circle cx="428.2" cy="442.3" r="2.15" fill="#1a90ff" stroke="#000" stroke-width="0.85"/>
<circle cx="440.8" cy="441.5" r="2.15" fill="#1a90ff" stroke="#000" stroke-width="0.85"/>
<text x="422.5" y="403.4" font-size="8.6" text-anchor="middle" fill="#151515"><tspan font-style="italic">p</tspan>=0.001</text>
<line x1="411" y1="406.5" x2="432.9" y2="406.5" stroke="#3a3a3a" stroke-width="1"/>
<text x="415.7" y="488.1" font-size="10.4" text-anchor="end" transform="rotate(-45 415.7 488.1)">mC2 CAR-T</text>
<text x="440.9" y="488.1" font-size="10.4" text-anchor="end" transform="rotate(-45 440.9 488.1)">hC2 CAR-T</text>
<line x1="525.6" y1="388" x2="525.6" y2="476.8" stroke="#1a1a1a" stroke-width="1.25"/>
<line x1="525" y1="476.2" x2="583.6" y2="476.2" stroke="#1a1a1a" stroke-width="1.25"/>
<line x1="522" y1="476.2" x2="525.6" y2="476.2" stroke="#1a1a1a" stroke-width="1.25"/>
<text x="518.9" y="480.7" font-size="10.2" text-anchor="end">0</text>
<line x1="522" y1="458.68" x2="525.6" y2="458.68" stroke="#1a1a1a" stroke-width="1.25"/>
<text x="518.9" y="463.18" font-size="10.2" text-anchor="end">2</text>
<line x1="522" y1="441.16" x2="525.6" y2="441.16" stroke="#1a1a1a" stroke-width="1.25"/>
<text x="518.9" y="445.66" font-size="10.2" text-anchor="end">4</text>
<line x1="522" y1="423.64" x2="525.6" y2="423.64" stroke="#1a1a1a" stroke-width="1.25"/>
<text x="518.9" y="428.14" font-size="10.2" text-anchor="end">6</text>
<line x1="522" y1="406.12" x2="525.6" y2="406.12" stroke="#1a1a1a" stroke-width="1.25"/>
<text x="518.9" y="410.62" font-size="10.2" text-anchor="end">8</text>
<line x1="522" y1="388.6" x2="525.6" y2="388.6" stroke="#1a1a1a" stroke-width="1.25"/>
<text x="518.9" y="393.9" font-size="10.2" text-anchor="end">10</text>
<line x1="542.1" y1="476.2" x2="542.1" y2="480" stroke="#1a1a1a" stroke-width="1.25"/>
<line x1="567.3" y1="476.2" x2="567.3" y2="480" stroke="#1a1a1a" stroke-width="1.25"/>
<text x="555.3" y="374.3" font-size="10.4" text-anchor="middle">CD4/GzmB</text>
<text x="507" y="432.8" font-size="10.4" text-anchor="middle" transform="rotate(-90 507 432.8)">MFI (x10<tspan font-size="6" dy="-3.5">3</tspan><tspan dy="3.5">)</tspan></text>
<line x1="534" y1="456.2" x2="551" y2="456.2" stroke="#3c3c3c" stroke-width="1.5"/>
<line x1="559" y1="447.3" x2="576" y2="447.3" stroke="#3c3c3c" stroke-width="1.5"/>
<circle cx="542.6" cy="410.9" r="2.15" fill="#ff2200" stroke="#000" stroke-width="0.85"/>
<circle cx="542.6" cy="450.2" r="2.15" fill="#ff2200" stroke="#000" stroke-width="0.85"/>
<circle cx="542.6" cy="463" r="2.15" fill="#ff2200" stroke="#000" stroke-width="0.85"/>
<circle cx="542.6" cy="470.3" r="2.15" fill="#ff2200" stroke="#000" stroke-width="0.85"/>
<circle cx="567.6" cy="407.9" r="2.15" fill="#1a90ff" stroke="#000" stroke-width="0.85"/>
<circle cx="561.4" cy="447.3" r="2.15" fill="#1a90ff" stroke="#000" stroke-width="0.85"/>
<circle cx="573.6" cy="447.8" r="2.15" fill="#1a90ff" stroke="#000" stroke-width="0.85"/>
<circle cx="567.6" cy="461.9" r="2.15" fill="#1a90ff" stroke="#000" stroke-width="0.85"/>
<text x="555" y="396.2" font-size="8.6" text-anchor="middle" fill="#151515"><tspan font-style="italic">p</tspan>=0.0845</text>
<line x1="544.1" y1="399.5" x2="566.8" y2="399.5" stroke="#3a3a3a" stroke-width="1"/>
<text x="549" y="488.1" font-size="10.4" text-anchor="end" transform="rotate(-45 549 488.1)">mC2 CAR-T</text>
<text x="574.2" y="488.1" font-size="10.4" text-anchor="end" transform="rotate(-45 574.2 488.1)">hC2 CAR-T</text>
<line x1="622.6" y1="387.8" x2="622.6" y2="476.8" stroke="#1a1a1a" stroke-width="1.25"/>
<line x1="622" y1="476.2" x2="680.6" y2="476.2" stroke="#1a1a1a" stroke-width="1.25"/>
<line x1="619" y1="476.2" x2="622.6" y2="476.2" stroke="#1a1a1a" stroke-width="1.25"/>
<text x="617.4" y="480.7" font-size="10.2" text-anchor="end">0</text>
<line x1="619" y1="458.64" x2="622.6" y2="458.64" stroke="#1a1a1a" stroke-width="1.25"/>
<text x="617.4" y="463.14" font-size="10.2" text-anchor="end">1</text>
<line x1="619" y1="441.08" x2="622.6" y2="441.08" stroke="#1a1a1a" stroke-width="1.25"/>
<text x="617.4" y="445.58" font-size="10.2" text-anchor="end">2</text>
<line x1="619" y1="423.52" x2="622.6" y2="423.52" stroke="#1a1a1a" stroke-width="1.25"/>
<text x="617.4" y="428.02" font-size="10.2" text-anchor="end">3</text>
<line x1="619" y1="405.96" x2="622.6" y2="405.96" stroke="#1a1a1a" stroke-width="1.25"/>
<text x="617.4" y="410.46" font-size="10.2" text-anchor="end">4</text>
<line x1="619" y1="388.4" x2="622.6" y2="388.4" stroke="#1a1a1a" stroke-width="1.25"/>
<text x="617.4" y="393.7" font-size="10.2" text-anchor="end">5</text>
<line x1="639.1" y1="476.2" x2="639.1" y2="480" stroke="#1a1a1a" stroke-width="1.25"/>
<line x1="664.3" y1="476.2" x2="664.3" y2="480" stroke="#1a1a1a" stroke-width="1.25"/>
<text x="650.7" y="374.3" font-size="10.4" text-anchor="middle">CD8/GzmB</text>
<text x="605.1" y="433" font-size="10.4" text-anchor="middle" transform="rotate(-90 605.1 433)">MFI (x10<tspan font-size="6" dy="-3.5">4</tspan><tspan dy="3.5">)</tspan></text>
<line x1="631.3" y1="458.8" x2="647.4" y2="458.8" stroke="#3c3c3c" stroke-width="1.5"/>
<line x1="656.2" y1="440.4" x2="672.7" y2="440.4" stroke="#3c3c3c" stroke-width="1.5"/>
<circle cx="639.5" cy="428.6" r="2.15" fill="#ff2200" stroke="#000" stroke-width="0.85"/>
<circle cx="639.5" cy="456.2" r="2.15" fill="#ff2200" stroke="#000" stroke-width="0.85"/>
<circle cx="639.5" cy="461.2" r="2.15" fill="#ff2200" stroke="#000" stroke-width="0.85"/>
<circle cx="639.5" cy="468.4" r="2.15" fill="#ff2200" stroke="#000" stroke-width="0.85"/>
<circle cx="664.3" cy="397.5" r="2.15" fill="#1a90ff" stroke="#000" stroke-width="0.85"/>
<circle cx="664.3" cy="435" r="2.15" fill="#1a90ff" stroke="#000" stroke-width="0.85"/>
<circle cx="664.3" cy="445.9" r="2.15" fill="#1a90ff" stroke="#000" stroke-width="0.85"/>
<circle cx="664.3" cy="458.8" r="2.15" fill="#1a90ff" stroke="#000" stroke-width="0.85"/>
<text x="651" y="388.8" font-size="8.6" text-anchor="middle" fill="#151515"><tspan font-style="italic">p</tspan>=0.0236</text>
<line x1="641" y1="391.5" x2="662.8" y2="391.5" stroke="#3a3a3a" stroke-width="1"/>
<text x="646" y="488.1" font-size="10.4" text-anchor="end" transform="rotate(-45 646 488.1)">mC2 CAR-T</text>
<text x="671.2" y="488.1" font-size="10.4" text-anchor="end" transform="rotate(-45 671.2 488.1)">hC2 CAR-T</text>
<line x1="54.5" y1="560.6" x2="54.5" y2="649.1" stroke="#1a1a1a" stroke-width="1.25"/>
<line x1="53.9" y1="648.5" x2="112.5" y2="648.5" stroke="#1a1a1a" stroke-width="1.25"/>
<line x1="50.9" y1="648.5" x2="54.5" y2="648.5" stroke="#1a1a1a" stroke-width="1.25"/>
<text x="48.8" y="653" font-size="10.2" text-anchor="end">0</text>
<line x1="50.9" y1="626.67" x2="54.5" y2="626.67" stroke="#1a1a1a" stroke-width="1.25"/>
<text x="48.8" y="631.17" font-size="10.2" text-anchor="end">10</text>
<line x1="50.9" y1="604.85" x2="54.5" y2="604.85" stroke="#1a1a1a" stroke-width="1.25"/>
<text x="48.8" y="609.35" font-size="10.2" text-anchor="end">20</text>
<line x1="50.9" y1="583.03" x2="54.5" y2="583.03" stroke="#1a1a1a" stroke-width="1.25"/>
<text x="48.8" y="587.53" font-size="10.2" text-anchor="end">30</text>
<line x1="50.9" y1="561.2" x2="54.5" y2="561.2" stroke="#1a1a1a" stroke-width="1.25"/>
<text x="48.8" y="566.5" font-size="10.2" text-anchor="end">40</text>
<line x1="71" y1="648.5" x2="71" y2="652.3" stroke="#1a1a1a" stroke-width="1.25"/>
<line x1="96.2" y1="648.5" x2="96.2" y2="652.3" stroke="#1a1a1a" stroke-width="1.25"/>
<text x="83.1" y="551.2" font-size="10.4" text-anchor="middle">CD4/IFN-&#947;</text>
<text x="32" y="606.1" font-size="10.4" text-anchor="middle" transform="rotate(-90 32 606.1)">Percentage (%)</text>
<line x1="64.5" y1="635.5" x2="77" y2="635.5" stroke="#3c3c3c" stroke-width="1.5"/>
<line x1="87.9" y1="618" x2="104.2" y2="618" stroke="#3c3c3c" stroke-width="1.5"/>
<circle cx="70.9" cy="622.5" r="2.15" fill="#ff2200" stroke="#000" stroke-width="0.85"/>
<circle cx="64.5" cy="635" r="2.15" fill="#ff2200" stroke="#000" stroke-width="0.85"/>
<circle cx="77.1" cy="636.5" r="2.15" fill="#ff2200" stroke="#000" stroke-width="0.85"/>
<circle cx="70.9" cy="644.9" r="2.15" fill="#ff2200" stroke="#000" stroke-width="0.85"/>
<circle cx="96.1" cy="583" r="2.15" fill="#1a90ff" stroke="#000" stroke-width="0.85"/>
<circle cx="96.1" cy="612.4" r="2.15" fill="#1a90ff" stroke="#000" stroke-width="0.85"/>
<circle cx="96.1" cy="623.6" r="2.15" fill="#1a90ff" stroke="#000" stroke-width="0.85"/>
<circle cx="96.1" cy="631.8" r="2.15" fill="#1a90ff" stroke="#000" stroke-width="0.85"/>
<text x="83.2" y="573" font-size="8.6" text-anchor="middle" fill="#151515"><tspan font-style="italic">p</tspan>=0.0392</text>
<line x1="72.5" y1="574.5" x2="94.5" y2="574.5" stroke="#3a3a3a" stroke-width="1"/>
<text x="77.9" y="660.4" font-size="10.4" text-anchor="end" transform="rotate(-45 77.9 660.4)">mC2 CAR-T</text>
<text x="103.1" y="660.4" font-size="10.4" text-anchor="end" transform="rotate(-45 103.1 660.4)">hC2 CAR-T</text>
<line x1="155.1" y1="560.5" x2="155.1" y2="649.1" stroke="#1a1a1a" stroke-width="1.25"/>
<line x1="154.5" y1="648.5" x2="213.1" y2="648.5" stroke="#1a1a1a" stroke-width="1.25"/>
<line x1="151.5" y1="648.5" x2="155.1" y2="648.5" stroke="#1a1a1a" stroke-width="1.25"/>
<text x="149.8" y="653" font-size="10.2" text-anchor="end">0</text>
<line x1="151.5" y1="619.37" x2="155.1" y2="619.37" stroke="#1a1a1a" stroke-width="1.25"/>
<text x="149.8" y="623.87" font-size="10.2" text-anchor="end">20</text>
<line x1="151.5" y1="590.23" x2="155.1" y2="590.23" stroke="#1a1a1a" stroke-width="1.25"/>
<text x="149.8" y="594.73" font-size="10.2" text-anchor="end">40</text>
<line x1="151.5" y1="561.1" x2="155.1" y2="561.1" stroke="#1a1a1a" stroke-width="1.25"/>
<text x="149.8" y="566.4" font-size="10.2" text-anchor="end">60</text>
<line x1="171.6" y1="648.5" x2="171.6" y2="652.3" stroke="#1a1a1a" stroke-width="1.25"/>
<line x1="196.8" y1="648.5" x2="196.8" y2="652.3" stroke="#1a1a1a" stroke-width="1.25"/>
<text x="184.6" y="551.2" font-size="10.4" text-anchor="middle">CD8/IFN-&#947;</text>
<text x="134.3" y="606.1" font-size="10.4" text-anchor="middle" transform="rotate(-90 134.3 606.1)">Percentage (%)</text>
<line x1="163.4" y1="619" x2="179.7" y2="619" stroke="#3c3c3c" stroke-width="1.5"/>
<line x1="188.5" y1="578" x2="205" y2="578" stroke="#3c3c3c" stroke-width="1.5"/>
<circle cx="171.6" cy="589.6" r="2.15" fill="#ff2200" stroke="#000" stroke-width="0.85"/>
<circle cx="171.6" cy="598.3" r="2.15" fill="#ff2200" stroke="#000" stroke-width="0.85"/>
<circle cx="165.4" cy="642.1" r="2.15" fill="#ff2200" stroke="#000" stroke-width="0.85"/>
<circle cx="177.7" cy="640" r="2.15" fill="#ff2200" stroke="#000" stroke-width="0.85"/>
<circle cx="190.6" cy="576.5" r="2.15" fill="#1a90ff" stroke="#000" stroke-width="0.85"/>
<circle cx="196.8" cy="577" r="2.15" fill="#1a90ff" stroke="#000" stroke-width="0.85"/>
<circle cx="202.8" cy="576.7" r="2.15" fill="#1a90ff" stroke="#000" stroke-width="0.85"/>
<circle cx="196.8" cy="586.7" r="2.15" fill="#1a90ff" stroke="#000" stroke-width="0.85"/>
<text x="184" y="565.7" font-size="8.6" text-anchor="middle" fill="#151515"><tspan font-style="italic">p</tspan>=0.0477</text>
<line x1="173.3" y1="568.5" x2="195.1" y2="568.5" stroke="#3a3a3a" stroke-width="1"/>
<text x="178.5" y="660.4" font-size="10.4" text-anchor="end" transform="rotate(-45 178.5 660.4)">mC2 CAR-T</text>
<text x="203.7" y="660.4" font-size="10.4" text-anchor="end" transform="rotate(-45 203.7 660.4)">hC2 CAR-T</text>
<line x1="294.3" y1="560.5" x2="294.3" y2="649.1" stroke="#1a1a1a" stroke-width="1.25"/>
<line x1="293.7" y1="648.5" x2="352.3" y2="648.5" stroke="#1a1a1a" stroke-width="1.25"/>
<line x1="290.7" y1="648.5" x2="294.3" y2="648.5" stroke="#1a1a1a" stroke-width="1.25"/>
<text x="289.5" y="653" font-size="10.2" text-anchor="end">0</text>
<line x1="290.7" y1="631.02" x2="294.3" y2="631.02" stroke="#1a1a1a" stroke-width="1.25"/>
<text x="289.5" y="635.52" font-size="10.2" text-anchor="end">20</text>
<line x1="290.7" y1="613.54" x2="294.3" y2="613.54" stroke="#1a1a1a" stroke-width="1.25"/>
<text x="289.5" y="618.04" font-size="10.2" text-anchor="end">40</text>
<line x1="290.7" y1="596.06" x2="294.3" y2="596.06" stroke="#1a1a1a" stroke-width="1.25"/>
<text x="289.5" y="600.56" font-size="10.2" text-anchor="end">60</text>
<line x1="290.7" y1="578.58" x2="294.3" y2="578.58" stroke="#1a1a1a" stroke-width="1.25"/>
<text x="289.5" y="583.08" font-size="10.2" text-anchor="end">80</text>
<line x1="290.7" y1="561.1" x2="294.3" y2="561.1" stroke="#1a1a1a" stroke-width="1.25"/>
<text x="289.5" y="566.4" font-size="10.2" text-anchor="end">100</text>
<line x1="310.8" y1="648.5" x2="310.8" y2="652.3" stroke="#1a1a1a" stroke-width="1.25"/>
<line x1="336" y1="648.5" x2="336" y2="652.3" stroke="#1a1a1a" stroke-width="1.25"/>
<text x="322.4" y="551.2" font-size="10.4" text-anchor="middle">CD4/TNF-&#945;</text>
<text x="270.6" y="606.1" font-size="10.4" text-anchor="middle" transform="rotate(-90 270.6 606.1)">Percentage (%)</text>
<line x1="303.1" y1="626.9" x2="319.8" y2="626.9" stroke="#3c3c3c" stroke-width="1.5"/>
<line x1="328.3" y1="585.1" x2="344.6" y2="585.1" stroke="#3c3c3c" stroke-width="1.5"/>
<circle cx="311.5" cy="598.8" r="2.15" fill="#ff2200" stroke="#000" stroke-width="0.85"/>
<circle cx="311.5" cy="616.8" r="2.15" fill="#ff2200" stroke="#000" stroke-width="0.85"/>
<circle cx="311.5" cy="636.9" r="2.15" fill="#ff2200" stroke="#000" stroke-width="0.85"/>
<circle cx="311.5" cy="642.1" r="2.15" fill="#ff2200" stroke="#000" stroke-width="0.85"/>
<circle cx="330.3" cy="578.3" r="2.15" fill="#1a90ff" stroke="#000" stroke-width="0.85"/>
<circle cx="342.5" cy="575.7" r="2.15" fill="#1a90ff" stroke="#000" stroke-width="0.85"/>
<circle cx="330.3" cy="592.6" r="2.15" fill="#1a90ff" stroke="#000" stroke-width="0.85"/>
<circle cx="342.5" cy="591.8" r="2.15" fill="#1a90ff" stroke="#000" stroke-width="0.85"/>
<text x="322.6" y="567" font-size="8.6" text-anchor="middle" fill="#151515"><tspan font-style="italic">p</tspan>=0.0067</text>
<line x1="312.3" y1="570.5" x2="334" y2="570.5" stroke="#3a3a3a" stroke-width="1"/>
<text x="317.7" y="660.4" font-size="10.4" text-anchor="end" transform="rotate(-45 317.7 660.4)">mC2 CAR-T</text>
<text x="342.9" y="660.4" font-size="10.4" text-anchor="end" transform="rotate(-45 342.9 660.4)">hC2 CAR-T</text>
<line x1="392.4" y1="560.5" x2="392.4" y2="649.1" stroke="#1a1a1a" stroke-width="1.25"/>
<line x1="391.8" y1="648.5" x2="450.4" y2="648.5" stroke="#1a1a1a" stroke-width="1.25"/>
<line x1="388.8" y1="648.5" x2="392.4" y2="648.5" stroke="#1a1a1a" stroke-width="1.25"/>
<text x="386.7" y="653" font-size="10.2" text-anchor="end">0</text>
<line x1="388.8" y1="631.02" x2="392.4" y2="631.02" stroke="#1a1a1a" stroke-width="1.25"/>
<text x="386.7" y="635.52" font-size="10.2" text-anchor="end">20</text>
<line x1="388.8" y1="613.54" x2="392.4" y2="613.54" stroke="#1a1a1a" stroke-width="1.25"/>
<text x="386.7" y="618.04" font-size="10.2" text-anchor="end">40</text>
<line x1="388.8" y1="596.06" x2="392.4" y2="596.06" stroke="#1a1a1a" stroke-width="1.25"/>
<text x="386.7" y="600.56" font-size="10.2" text-anchor="end">60</text>
<line x1="388.8" y1="578.58" x2="392.4" y2="578.58" stroke="#1a1a1a" stroke-width="1.25"/>
<text x="386.7" y="583.08" font-size="10.2" text-anchor="end">80</text>
<line x1="388.8" y1="561.1" x2="392.4" y2="561.1" stroke="#1a1a1a" stroke-width="1.25"/>
<text x="386.7" y="566.4" font-size="10.2" text-anchor="end">100</text>
<line x1="408.9" y1="648.5" x2="408.9" y2="652.3" stroke="#1a1a1a" stroke-width="1.25"/>
<line x1="434.1" y1="648.5" x2="434.1" y2="652.3" stroke="#1a1a1a" stroke-width="1.25"/>
<text x="418.8" y="551.2" font-size="10.4" text-anchor="middle">CD8/TNF-&#945;</text>
<text x="368.1" y="606.1" font-size="10.4" text-anchor="middle" transform="rotate(-90 368.1 606.1)">Percentage (%)</text>
<line x1="401" y1="636.3" x2="417.8" y2="636.3" stroke="#3c3c3c" stroke-width="1.5"/>
<line x1="426.2" y1="597.7" x2="443" y2="597.7" stroke="#3c3c3c" stroke-width="1.5"/>
<circle cx="409.4" cy="616.5" r="2.15" fill="#ff2200" stroke="#000" stroke-width="0.85"/>
<circle cx="409.4" cy="628.5" r="2.15" fill="#ff2200" stroke="#000" stroke-width="0.85"/>
<circle cx="403.2" cy="645.5" r="2.15" fill="#ff2200" stroke="#000" stroke-width="0.85"/>
<circle cx="415.6" cy="644.2" r="2.15" fill="#ff2200" stroke="#000" stroke-width="0.85"/>
<circle cx="428.3" cy="594.6" r="2.15" fill="#1a90ff" stroke="#000" stroke-width="0.85"/>
<circle cx="440.8" cy="591.8" r="2.15" fill="#1a90ff" stroke="#000" stroke-width="0.85"/>
<circle cx="434.2" cy="600.8" r="2.15" fill="#1a90ff" stroke="#000" stroke-width="0.85"/>
<circle cx="434.2" cy="608.4" r="2.15" fill="#1a90ff" stroke="#000" stroke-width="0.85"/>
<text x="419" y="581.3" font-size="8.6" text-anchor="middle" fill="#151515"><tspan font-style="italic">p</tspan>=0.0094</text>
<line x1="407.7" y1="584.5" x2="429.9" y2="584.5" stroke="#3a3a3a" stroke-width="1"/>
<text x="415.8" y="660.4" font-size="10.4" text-anchor="end" transform="rotate(-45 415.8 660.4)">mC2 CAR-T</text>
<text x="441" y="660.4" font-size="10.4" text-anchor="end" transform="rotate(-45 441 660.4)">hC2 CAR-T</text>
<line x1="524.8" y1="560.5" x2="524.8" y2="649.1" stroke="#1a1a1a" stroke-width="1.25"/>
<line x1="524.2" y1="648.5" x2="582.8" y2="648.5" stroke="#1a1a1a" stroke-width="1.25"/>
<line x1="521.2" y1="648.5" x2="524.8" y2="648.5" stroke="#1a1a1a" stroke-width="1.25"/>
<text x="519.6" y="653" font-size="10.2" text-anchor="end">0</text>
<line x1="521.2" y1="631.02" x2="524.8" y2="631.02" stroke="#1a1a1a" stroke-width="1.25"/>
<text x="519.6" y="635.52" font-size="10.2" text-anchor="end">2</text>
<line x1="521.2" y1="613.54" x2="524.8" y2="613.54" stroke="#1a1a1a" stroke-width="1.25"/>
<text x="519.6" y="618.04" font-size="10.2" text-anchor="end">4</text>
<line x1="521.2" y1="596.06" x2="524.8" y2="596.06" stroke="#1a1a1a" stroke-width="1.25"/>
<text x="519.6" y="600.56" font-size="10.2" text-anchor="end">6</text>
<line x1="521.2" y1="578.58" x2="524.8" y2="578.58" stroke="#1a1a1a" stroke-width="1.25"/>
<text x="519.6" y="583.08" font-size="10.2" text-anchor="end">8</text>
<line x1="521.2" y1="561.1" x2="524.8" y2="561.1" stroke="#1a1a1a" stroke-width="1.25"/>
<text x="519.6" y="566.4" font-size="10.2" text-anchor="end">10</text>
<line x1="541.3" y1="648.5" x2="541.3" y2="652.3" stroke="#1a1a1a" stroke-width="1.25"/>
<line x1="566.5" y1="648.5" x2="566.5" y2="652.3" stroke="#1a1a1a" stroke-width="1.25"/>
<text x="552.4" y="551.2" font-size="10.4" text-anchor="middle">CD4/GzmB</text>
<text x="507.2" y="606.6" font-size="10.4" text-anchor="middle" transform="rotate(-90 507.2 606.6)">MFI (x10<tspan font-size="6" dy="-3.5">3</tspan><tspan dy="3.5">)</tspan></text>
<line x1="533.3" y1="632.4" x2="549.6" y2="632.4" stroke="#3c3c3c" stroke-width="1.5"/>
<line x1="558.4" y1="609.4" x2="574.8" y2="609.4" stroke="#3c3c3c" stroke-width="1.5"/>
<circle cx="541.2" cy="614.8" r="2.15" fill="#ff2200" stroke="#000" stroke-width="0.85"/>
<circle cx="541.2" cy="626.9" r="2.15" fill="#ff2200" stroke="#000" stroke-width="0.85"/>
<circle cx="535" cy="641.6" r="2.15" fill="#ff2200" stroke="#000" stroke-width="0.85"/>
<circle cx="547.4" cy="638.8" r="2.15" fill="#ff2200" stroke="#000" stroke-width="0.85"/>
<circle cx="566.4" cy="568.3" r="2.15" fill="#1a90ff" stroke="#000" stroke-width="0.85"/>
<circle cx="566.4" cy="605.5" r="2.15" fill="#1a90ff" stroke="#000" stroke-width="0.85"/>
<circle cx="566.4" cy="613.6" r="2.15" fill="#1a90ff" stroke="#000" stroke-width="0.85"/>
<circle cx="566.4" cy="625.7" r="2.15" fill="#1a90ff" stroke="#000" stroke-width="0.85"/>
<text x="553.4" y="561.2" font-size="8.6" text-anchor="middle" fill="#151515"><tspan font-style="italic">p</tspan>=0.0265</text>
<line x1="542.9" y1="564.5" x2="564.7" y2="564.5" stroke="#3a3a3a" stroke-width="1"/>
<text x="548.2" y="660.4" font-size="10.4" text-anchor="end" transform="rotate(-45 548.2 660.4)">mC2 CAR-T</text>
<text x="573.4" y="660.4" font-size="10.4" text-anchor="end" transform="rotate(-45 573.4 660.4)">hC2 CAR-T</text>
<line x1="622.6" y1="560.5" x2="622.6" y2="649.1" stroke="#1a1a1a" stroke-width="1.25"/>
<line x1="622" y1="648.5" x2="680.6" y2="648.5" stroke="#1a1a1a" stroke-width="1.25"/>
<line x1="619" y1="648.5" x2="622.6" y2="648.5" stroke="#1a1a1a" stroke-width="1.25"/>
<text x="617.6" y="653" font-size="10.2" text-anchor="end">0</text>
<line x1="619" y1="619.37" x2="622.6" y2="619.37" stroke="#1a1a1a" stroke-width="1.25"/>
<text x="617.6" y="623.87" font-size="10.2" text-anchor="end">2</text>
<line x1="619" y1="590.23" x2="622.6" y2="590.23" stroke="#1a1a1a" stroke-width="1.25"/>
<text x="617.6" y="594.73" font-size="10.2" text-anchor="end">4</text>
<line x1="619" y1="561.1" x2="622.6" y2="561.1" stroke="#1a1a1a" stroke-width="1.25"/>
<text x="617.6" y="566.4" font-size="10.2" text-anchor="end">6</text>
<line x1="639.1" y1="648.5" x2="639.1" y2="652.3" stroke="#1a1a1a" stroke-width="1.25"/>
<line x1="664.3" y1="648.5" x2="664.3" y2="652.3" stroke="#1a1a1a" stroke-width="1.25"/>
<text x="649.5" y="551.2" font-size="10.4" text-anchor="middle">CD8/GzmB</text>
<text x="607.6" y="606.4" font-size="10.4" text-anchor="middle" transform="rotate(-90 607.6 606.4)">MFI (x10<tspan font-size="6" dy="-3.5">4</tspan><tspan dy="3.5">)</tspan></text>
<line x1="631" y1="633.2" x2="647.4" y2="633.2" stroke="#3c3c3c" stroke-width="1.5"/>
<line x1="656.2" y1="604.6" x2="672.7" y2="604.6" stroke="#3c3c3c" stroke-width="1.5"/>
<circle cx="639.5" cy="622" r="2.15" fill="#ff2200" stroke="#000" stroke-width="0.85"/>
<circle cx="639.5" cy="627.3" r="2.15" fill="#ff2200" stroke="#000" stroke-width="0.85"/>
<circle cx="633.3" cy="640.8" r="2.15" fill="#ff2200" stroke="#000" stroke-width="0.85"/>
<circle cx="645.6" cy="639.6" r="2.15" fill="#ff2200" stroke="#000" stroke-width="0.85"/>
<circle cx="664.3" cy="574" r="2.15" fill="#1a90ff" stroke="#000" stroke-width="0.85"/>
<circle cx="664.3" cy="601.7" r="2.15" fill="#1a90ff" stroke="#000" stroke-width="0.85"/>
<circle cx="664.3" cy="607.4" r="2.15" fill="#1a90ff" stroke="#000" stroke-width="0.85"/>
<circle cx="664.3" cy="620" r="2.15" fill="#1a90ff" stroke="#000" stroke-width="0.85"/>
<text x="651" y="564.1" font-size="8.6" text-anchor="middle" fill="#151515"><tspan font-style="italic">p</tspan>=0.0183</text>
<line x1="639" y1="568.5" x2="660.8" y2="568.5" stroke="#3a3a3a" stroke-width="1"/>
<text x="646" y="660.4" font-size="10.4" text-anchor="end" transform="rotate(-45 646 660.4)">mC2 CAR-T</text>
<text x="671.2" y="660.4" font-size="10.4" text-anchor="end" transform="rotate(-45 671.2 660.4)">hC2 CAR-T</text>
<rect x="60.8" y="29.7" width="44.8" height="44.8" fill="none" stroke="#d4d4d4" stroke-width="0.8"/>
<line x1="60.8" y1="29.7" x2="60.8" y2="74.5" stroke="#c8c8c8" stroke-width="0.9"/>
<line x1="60.8" y1="74.5" x2="105.6" y2="74.5" stroke="#c8c8c8" stroke-width="0.9"/>
<line x1="59.6" y1="73.5" x2="61.4" y2="73.5" stroke="#666" stroke-width="0.7"/>
<text x="55.2" y="74.5" font-size="3.2" fill="#888">10</text>
<line x1="59.6" y1="63.1" x2="61.4" y2="63.1" stroke="#666" stroke-width="0.7"/>
<text x="55.2" y="64.1" font-size="3.2" fill="#888">10</text>
<line x1="59.6" y1="52.7" x2="61.4" y2="52.7" stroke="#666" stroke-width="0.7"/>
<text x="55.2" y="53.7" font-size="3.2" fill="#888">10</text>
<line x1="59.6" y1="42.3" x2="61.4" y2="42.3" stroke="#666" stroke-width="0.7"/>
<text x="55.2" y="43.3" font-size="3.2" fill="#888">10</text>
<line x1="59.6" y1="31.9" x2="61.4" y2="31.9" stroke="#666" stroke-width="0.7"/>
<text x="55.2" y="32.9" font-size="3.2" fill="#888">10</text>
<line x1="62.3" y1="73.9" x2="62.3" y2="75.7" stroke="#666" stroke-width="0.7"/>
<text x="59.1" y="79.1" font-size="3.2" fill="#888" transform="rotate(-30 59.1 79.1)">10</text>
<line x1="72.6" y1="73.9" x2="72.6" y2="75.7" stroke="#666" stroke-width="0.7"/>
<text x="69.4" y="79.1" font-size="3.2" fill="#888" transform="rotate(-30 69.4 79.1)">10</text>
<line x1="82.9" y1="73.9" x2="82.9" y2="75.7" stroke="#666" stroke-width="0.7"/>
<text x="79.7" y="79.1" font-size="3.2" fill="#888" transform="rotate(-30 79.7 79.1)">10</text>
<line x1="93.2" y1="73.9" x2="93.2" y2="75.7" stroke="#666" stroke-width="0.7"/>
<text x="90" y="79.1" font-size="3.2" fill="#888" transform="rotate(-30 90 79.1)">10</text>
<line x1="103.5" y1="73.9" x2="103.5" y2="75.7" stroke="#666" stroke-width="0.7"/>
<text x="100.3" y="79.1" font-size="3.2" fill="#888" transform="rotate(-30 100.3 79.1)">10</text>
<g filter="url(#jet)">
<g opacity="0.4">
<ellipse cx="84" cy="51.5" rx="6.3" ry="11.5" fill="#fff"/>
<ellipse cx="79.5" cy="46.2" rx="2.6" ry="2.3" fill="#fff"/>
<ellipse cx="81" cy="52" rx="2.6" ry="5.5" fill="#fff"/>
</g>
<g opacity="0.38">
<ellipse cx="85.6" cy="52" rx="4.37" ry="10.42" fill="#fff"/>
</g>
<g opacity="0.46">
<ellipse cx="86.3" cy="52.3" rx="2.04" ry="8.16" fill="#fff"/>
</g>
<g opacity="0.8">
<ellipse cx="86.4" cy="49" rx="1.17" ry="1.69" fill="#fff"/>
<ellipse cx="86.6" cy="56" rx="1.3" ry="1.82" fill="#fff"/>
</g>
</g>
<ellipse cx="89" cy="73.9" rx="3" ry="1.05" fill="#1238ff"/>
<line x1="83.8" y1="29.7" x2="83.8" y2="74.5" stroke="#c6c6c6" stroke-width="1.2"/>
<line x1="60.8" y1="51.4" x2="105.6" y2="51.4" stroke="#505050" stroke-width="1"/>
<rect x="114.3" y="29.7" width="44.8" height="44.8" fill="none" stroke="#d4d4d4" stroke-width="0.8"/>
<line x1="114.3" y1="29.7" x2="114.3" y2="74.5" stroke="#c8c8c8" stroke-width="0.9"/>
<line x1="114.3" y1="74.5" x2="159.1" y2="74.5" stroke="#c8c8c8" stroke-width="0.9"/>
<line x1="113.1" y1="73.5" x2="114.9" y2="73.5" stroke="#666" stroke-width="0.7"/>
<text x="108.7" y="74.5" font-size="3.2" fill="#888">10</text>
<line x1="113.1" y1="63.1" x2="114.9" y2="63.1" stroke="#666" stroke-width="0.7"/>
<text x="108.7" y="64.1" font-size="3.2" fill="#888">10</text>
<line x1="113.1" y1="52.7" x2="114.9" y2="52.7" stroke="#666" stroke-width="0.7"/>
<text x="108.7" y="53.7" font-size="3.2" fill="#888">10</text>
<line x1="113.1" y1="42.3" x2="114.9" y2="42.3" stroke="#666" stroke-width="0.7"/>
<text x="108.7" y="43.3" font-size="3.2" fill="#888">10</text>
<line x1="113.1" y1="31.9" x2="114.9" y2="31.9" stroke="#666" stroke-width="0.7"/>
<text x="108.7" y="32.9" font-size="3.2" fill="#888">10</text>
<line x1="115.8" y1="73.9" x2="115.8" y2="75.7" stroke="#666" stroke-width="0.7"/>
<text x="112.6" y="79.1" font-size="3.2" fill="#888" transform="rotate(-30 112.6 79.1)">10</text>
<line x1="126.1" y1="73.9" x2="126.1" y2="75.7" stroke="#666" stroke-width="0.7"/>
<text x="122.9" y="79.1" font-size="3.2" fill="#888" transform="rotate(-30 122.9 79.1)">10</text>
<line x1="136.4" y1="73.9" x2="136.4" y2="75.7" stroke="#666" stroke-width="0.7"/>
<text x="133.2" y="79.1" font-size="3.2" fill="#888" transform="rotate(-30 133.2 79.1)">10</text>
<line x1="146.7" y1="73.9" x2="146.7" y2="75.7" stroke="#666" stroke-width="0.7"/>
<text x="143.5" y="79.1" font-size="3.2" fill="#888" transform="rotate(-30 143.5 79.1)">10</text>
<line x1="157" y1="73.9" x2="157" y2="75.7" stroke="#666" stroke-width="0.7"/>
<text x="153.8" y="79.1" font-size="3.2" fill="#888" transform="rotate(-30 153.8 79.1)">10</text>
<g filter="url(#jet)">
<g opacity="0.4">
<ellipse cx="138.3" cy="52.5" rx="6.7" ry="12.5" fill="#fff"/>
<ellipse cx="130.2" cy="46.3" rx="2.8" ry="2.8" fill="#fff"/>
<ellipse cx="133" cy="53" rx="3.6" ry="9" fill="#fff"/>
</g>
<g opacity="0.38">
<ellipse cx="139.5" cy="52" rx="5.38" ry="11.2" fill="#fff"/>
</g>
<g opacity="0.46">
<ellipse cx="140.5" cy="52.5" rx="2.4" ry="7.8" fill="#fff"/>
</g>
<g opacity="0.8">
<ellipse cx="141" cy="56.5" rx="1.43" ry="2.86" fill="#fff"/>
<ellipse cx="140.6" cy="48.5" rx="0.78" ry="1.17" fill="#fff"/>
</g>
</g>
<ellipse cx="138.5" cy="73.9" rx="3.1" ry="1.05" fill="#1238ff"/>
<line x1="137.3" y1="29.7" x2="137.3" y2="74.5" stroke="#505050" stroke-width="1"/>
<line x1="114.3" y1="51.4" x2="159.1" y2="51.4" stroke="#505050" stroke-width="1"/>
<rect x="167.9" y="29.7" width="44.8" height="44.8" fill="none" stroke="#d4d4d4" stroke-width="0.8"/>
<line x1="167.9" y1="29.7" x2="167.9" y2="74.5" stroke="#c8c8c8" stroke-width="0.9"/>
<line x1="167.9" y1="74.5" x2="212.7" y2="74.5" stroke="#c8c8c8" stroke-width="0.9"/>
<line x1="166.7" y1="73.5" x2="168.5" y2="73.5" stroke="#666" stroke-width="0.7"/>
<text x="162.3" y="74.5" font-size="3.2" fill="#888">10</text>
<line x1="166.7" y1="63.1" x2="168.5" y2="63.1" stroke="#666" stroke-width="0.7"/>
<text x="162.3" y="64.1" font-size="3.2" fill="#888">10</text>
<line x1="166.7" y1="52.7" x2="168.5" y2="52.7" stroke="#666" stroke-width="0.7"/>
<text x="162.3" y="53.7" font-size="3.2" fill="#888">10</text>
<line x1="166.7" y1="42.3" x2="168.5" y2="42.3" stroke="#666" stroke-width="0.7"/>
<text x="162.3" y="43.3" font-size="3.2" fill="#888">10</text>
<line x1="166.7" y1="31.9" x2="168.5" y2="31.9" stroke="#666" stroke-width="0.7"/>
<text x="162.3" y="32.9" font-size="3.2" fill="#888">10</text>
<line x1="169.4" y1="73.9" x2="169.4" y2="75.7" stroke="#666" stroke-width="0.7"/>
<text x="166.2" y="79.1" font-size="3.2" fill="#888" transform="rotate(-30 166.2 79.1)">10</text>
<line x1="179.7" y1="73.9" x2="179.7" y2="75.7" stroke="#666" stroke-width="0.7"/>
<text x="176.5" y="79.1" font-size="3.2" fill="#888" transform="rotate(-30 176.5 79.1)">10</text>
<line x1="190" y1="73.9" x2="190" y2="75.7" stroke="#666" stroke-width="0.7"/>
<text x="186.8" y="79.1" font-size="3.2" fill="#888" transform="rotate(-30 186.8 79.1)">10</text>
<line x1="200.3" y1="73.9" x2="200.3" y2="75.7" stroke="#666" stroke-width="0.7"/>
<text x="197.1" y="79.1" font-size="3.2" fill="#888" transform="rotate(-30 197.1 79.1)">10</text>
<line x1="210.6" y1="73.9" x2="210.6" y2="75.7" stroke="#666" stroke-width="0.7"/>
<text x="207.4" y="79.1" font-size="3.2" fill="#888" transform="rotate(-30 207.4 79.1)">10</text>
<g filter="url(#jet)">
<g opacity="0.4">
<ellipse cx="193.3" cy="52.3" rx="5.2" ry="12.3" fill="#fff"/>
<ellipse cx="187.2" cy="46.2" rx="3" ry="2.2" fill="#fff"/>
</g>
<g opacity="0.38">
<ellipse cx="194.5" cy="51.5" rx="4.14" ry="11.2" fill="#fff"/>
</g>
<g opacity="0.46">
<ellipse cx="194.6" cy="54.5" rx="2.28" ry="5.4" fill="#fff"/>
</g>
<g opacity="0.8">
<ellipse cx="194.6" cy="55.8" rx="1.43" ry="2.34" fill="#fff"/>
</g>
</g>
<ellipse cx="197.05" cy="73.9" rx="3.35" ry="1.05" fill="#1238ff"/>
<line x1="190.9" y1="29.7" x2="190.9" y2="74.5" stroke="#c6c6c6" stroke-width="1.2"/>
<line x1="167.9" y1="51.4" x2="212.7" y2="51.4" stroke="#505050" stroke-width="1"/>
<rect x="221.5" y="29.7" width="44.8" height="44.8" fill="none" stroke="#d4d4d4" stroke-width="0.8"/>
<line x1="221.5" y1="29.7" x2="221.5" y2="74.5" stroke="#c8c8c8" stroke-width="0.9"/>
<line x1="221.5" y1="74.5" x2="266.3" y2="74.5" stroke="#c8c8c8" stroke-width="0.9"/>
<line x1="220.3" y1="73.5" x2="222.1" y2="73.5" stroke="#666" stroke-width="0.7"/>
<text x="215.9" y="74.5" font-size="3.2" fill="#888">10</text>
<line x1="220.3" y1="63.1" x2="222.1" y2="63.1" stroke="#666" stroke-width="0.7"/>
<text x="215.9" y="64.1" font-size="3.2" fill="#888">10</text>
<line x1="220.3" y1="52.7" x2="222.1" y2="52.7" stroke="#666" stroke-width="0.7"/>
<text x="215.9" y="53.7" font-size="3.2" fill="#888">10</text>
<line x1="220.3" y1="42.3" x2="222.1" y2="42.3" stroke="#666" stroke-width="0.7"/>
<text x="215.9" y="43.3" font-size="3.2" fill="#888">10</text>
<line x1="220.3" y1="31.9" x2="222.1" y2="31.9" stroke="#666" stroke-width="0.7"/>
<text x="215.9" y="32.9" font-size="3.2" fill="#888">10</text>
<line x1="223" y1="73.9" x2="223" y2="75.7" stroke="#666" stroke-width="0.7"/>
<text x="219.8" y="79.1" font-size="3.2" fill="#888" transform="rotate(-30 219.8 79.1)">10</text>
<line x1="233.3" y1="73.9" x2="233.3" y2="75.7" stroke="#666" stroke-width="0.7"/>
<text x="230.1" y="79.1" font-size="3.2" fill="#888" transform="rotate(-30 230.1 79.1)">10</text>
<line x1="243.6" y1="73.9" x2="243.6" y2="75.7" stroke="#666" stroke-width="0.7"/>
<text x="240.4" y="79.1" font-size="3.2" fill="#888" transform="rotate(-30 240.4 79.1)">10</text>
<line x1="253.9" y1="73.9" x2="253.9" y2="75.7" stroke="#666" stroke-width="0.7"/>
<text x="250.7" y="79.1" font-size="3.2" fill="#888" transform="rotate(-30 250.7 79.1)">10</text>
<line x1="264.2" y1="73.9" x2="264.2" y2="75.7" stroke="#666" stroke-width="0.7"/>
<text x="261" y="79.1" font-size="3.2" fill="#888" transform="rotate(-30 261 79.1)">10</text>
<g filter="url(#jet)">
<g opacity="0.4">
<ellipse cx="245.6" cy="51.5" rx="7.6" ry="11.8" fill="#fff"/>
<ellipse cx="247.2" cy="61.5" rx="3" ry="5.8" fill="#fff"/>
</g>
<g opacity="0.38">
<ellipse cx="247" cy="52" rx="4.48" ry="10.64" fill="#fff"/>
</g>
<g opacity="0.46">
<ellipse cx="248" cy="56" rx="2.52" ry="4.32" fill="#fff"/>
</g>
<g opacity="0.8">
<ellipse cx="248.3" cy="56" rx="1.43" ry="2.21" fill="#fff"/>
</g>
</g>
<ellipse cx="248.55" cy="73.9" rx="3.35" ry="1.05" fill="#1238ff"/>
<line x1="244.5" y1="29.7" x2="244.5" y2="74.5" stroke="#c6c6c6" stroke-width="1.2"/>
<line x1="221.5" y1="51.4" x2="266.3" y2="51.4" stroke="#505050" stroke-width="1"/>
<rect x="60.8" y="83.4" width="44.8" height="44.8" fill="none" stroke="#d4d4d4" stroke-width="0.8"/>
<line x1="60.8" y1="83.4" x2="60.8" y2="128.2" stroke="#c8c8c8" stroke-width="0.9"/>
<line x1="60.8" y1="128.2" x2="105.6" y2="128.2" stroke="#c8c8c8" stroke-width="0.9"/>
<line x1="59.6" y1="127.2" x2="61.4" y2="127.2" stroke="#666" stroke-width="0.7"/>
<text x="55.2" y="128.2" font-size="3.2" fill="#888">10</text>
<line x1="59.6" y1="116.8" x2="61.4" y2="116.8" stroke="#666" stroke-width="0.7"/>
<text x="55.2" y="117.8" font-size="3.2" fill="#888">10</text>
<line x1="59.6" y1="106.4" x2="61.4" y2="106.4" stroke="#666" stroke-width="0.7"/>
<text x="55.2" y="107.4" font-size="3.2" fill="#888">10</text>
<line x1="59.6" y1="96" x2="61.4" y2="96" stroke="#666" stroke-width="0.7"/>
<text x="55.2" y="97" font-size="3.2" fill="#888">10</text>
<line x1="59.6" y1="85.6" x2="61.4" y2="85.6" stroke="#666" stroke-width="0.7"/>
<text x="55.2" y="86.6" font-size="3.2" fill="#888">10</text>
<line x1="62.3" y1="127.6" x2="62.3" y2="129.4" stroke="#666" stroke-width="0.7"/>
<text x="59.1" y="132.8" font-size="3.2" fill="#888" transform="rotate(-30 59.1 132.8)">10</text>
<line x1="72.6" y1="127.6" x2="72.6" y2="129.4" stroke="#666" stroke-width="0.7"/>
<text x="69.4" y="132.8" font-size="3.2" fill="#888" transform="rotate(-30 69.4 132.8)">10</text>
<line x1="82.9" y1="127.6" x2="82.9" y2="129.4" stroke="#666" stroke-width="0.7"/>
<text x="79.7" y="132.8" font-size="3.2" fill="#888" transform="rotate(-30 79.7 132.8)">10</text>
<line x1="93.2" y1="127.6" x2="93.2" y2="129.4" stroke="#666" stroke-width="0.7"/>
<text x="90" y="132.8" font-size="3.2" fill="#888" transform="rotate(-30 90 132.8)">10</text>
<line x1="103.5" y1="127.6" x2="103.5" y2="129.4" stroke="#666" stroke-width="0.7"/>
<text x="100.3" y="132.8" font-size="3.2" fill="#888" transform="rotate(-30 100.3 132.8)">10</text>
<g filter="url(#jet)">
<g opacity="0.4">
<ellipse cx="87.2" cy="103.3" rx="5.6" ry="11.5" fill="#fff"/>
<ellipse cx="81.2" cy="99.4" rx="2.6" ry="1.9" fill="#fff"/>
</g>
<g opacity="0.38">
<ellipse cx="86.9" cy="101.5" rx="4.59" ry="8.96" fill="#fff"/>
</g>
<g opacity="0.46">
<ellipse cx="86.8" cy="100.5" rx="2.52" ry="4.2" fill="#fff"/>
</g>
<g opacity="0.8">
<ellipse cx="86.8" cy="100.5" rx="1.43" ry="1.95" fill="#fff"/>
</g>
</g>
<ellipse cx="89" cy="127.6" rx="3.5" ry="1.05" fill="#1238ff"/>
<line x1="83.8" y1="83.4" x2="83.8" y2="128.2" stroke="#c6c6c6" stroke-width="1.2"/>
<line x1="60.8" y1="105.3" x2="105.6" y2="105.3" stroke="#505050" stroke-width="1"/>
<rect x="114.3" y="83.4" width="44.8" height="44.8" fill="none" stroke="#d4d4d4" stroke-width="0.8"/>
<line x1="114.3" y1="83.4" x2="114.3" y2="128.2" stroke="#c8c8c8" stroke-width="0.9"/>
<line x1="114.3" y1="128.2" x2="159.1" y2="128.2" stroke="#c8c8c8" stroke-width="0.9"/>
<line x1="113.1" y1="127.2" x2="114.9" y2="127.2" stroke="#666" stroke-width="0.7"/>
<text x="108.7" y="128.2" font-size="3.2" fill="#888">10</text>
<line x1="113.1" y1="116.8" x2="114.9" y2="116.8" stroke="#666" stroke-width="0.7"/>
<text x="108.7" y="117.8" font-size="3.2" fill="#888">10</text>
<line x1="113.1" y1="106.4" x2="114.9" y2="106.4" stroke="#666" stroke-width="0.7"/>
<text x="108.7" y="107.4" font-size="3.2" fill="#888">10</text>
<line x1="113.1" y1="96" x2="114.9" y2="96" stroke="#666" stroke-width="0.7"/>
<text x="108.7" y="97" font-size="3.2" fill="#888">10</text>
<line x1="113.1" y1="85.6" x2="114.9" y2="85.6" stroke="#666" stroke-width="0.7"/>
<text x="108.7" y="86.6" font-size="3.2" fill="#888">10</text>
<line x1="115.8" y1="127.6" x2="115.8" y2="129.4" stroke="#666" stroke-width="0.7"/>
<text x="112.6" y="132.8" font-size="3.2" fill="#888" transform="rotate(-30 112.6 132.8)">10</text>
<line x1="126.1" y1="127.6" x2="126.1" y2="129.4" stroke="#666" stroke-width="0.7"/>
<text x="122.9" y="132.8" font-size="3.2" fill="#888" transform="rotate(-30 122.9 132.8)">10</text>
<line x1="136.4" y1="127.6" x2="136.4" y2="129.4" stroke="#666" stroke-width="0.7"/>
<text x="133.2" y="132.8" font-size="3.2" fill="#888" transform="rotate(-30 133.2 132.8)">10</text>
<line x1="146.7" y1="127.6" x2="146.7" y2="129.4" stroke="#666" stroke-width="0.7"/>
<text x="143.5" y="132.8" font-size="3.2" fill="#888" transform="rotate(-30 143.5 132.8)">10</text>
<line x1="157" y1="127.6" x2="157" y2="129.4" stroke="#666" stroke-width="0.7"/>
<text x="153.8" y="132.8" font-size="3.2" fill="#888" transform="rotate(-30 153.8 132.8)">10</text>
<g filter="url(#jet)">
<g opacity="0.4">
<ellipse cx="139.3" cy="102" rx="5.8" ry="10.4" fill="#fff"/>
<ellipse cx="134" cy="101" rx="3.3" ry="4.2" fill="#fff"/>
</g>
<g opacity="0.38">
<ellipse cx="139.2" cy="101.3" rx="4.48" ry="8.4" fill="#fff"/>
</g>
<g opacity="0.46">
<ellipse cx="139.3" cy="100.7" rx="2.4" ry="4.08" fill="#fff"/>
</g>
<g opacity="0.8">
<ellipse cx="139.3" cy="100.8" rx="1.43" ry="2.21" fill="#fff"/>
</g>
</g>
<ellipse cx="139.75" cy="127.6" rx="1.25" ry="1.05" fill="#1238ff"/>
<line x1="137.3" y1="83.4" x2="137.3" y2="128.2" stroke="#505050" stroke-width="1"/>
<line x1="114.3" y1="105.3" x2="159.1" y2="105.3" stroke="#505050" stroke-width="1"/>
<rect x="167.9" y="83.4" width="44.8" height="44.8" fill="none" stroke="#d4d4d4" stroke-width="0.8"/>
<line x1="167.9" y1="83.4" x2="167.9" y2="128.2" stroke="#c8c8c8" stroke-width="0.9"/>
<line x1="167.9" y1="128.2" x2="212.7" y2="128.2" stroke="#c8c8c8" stroke-width="0.9"/>
<line x1="166.7" y1="127.2" x2="168.5" y2="127.2" stroke="#666" stroke-width="0.7"/>
<text x="162.3" y="128.2" font-size="3.2" fill="#888">10</text>
<line x1="166.7" y1="116.8" x2="168.5" y2="116.8" stroke="#666" stroke-width="0.7"/>
<text x="162.3" y="117.8" font-size="3.2" fill="#888">10</text>
<line x1="166.7" y1="106.4" x2="168.5" y2="106.4" stroke="#666" stroke-width="0.7"/>
<text x="162.3" y="107.4" font-size="3.2" fill="#888">10</text>
<line x1="166.7" y1="96" x2="168.5" y2="96" stroke="#666" stroke-width="0.7"/>
<text x="162.3" y="97" font-size="3.2" fill="#888">10</text>
<line x1="166.7" y1="85.6" x2="168.5" y2="85.6" stroke="#666" stroke-width="0.7"/>
<text x="162.3" y="86.6" font-size="3.2" fill="#888">10</text>
<line x1="169.4" y1="127.6" x2="169.4" y2="129.4" stroke="#666" stroke-width="0.7"/>
<text x="166.2" y="132.8" font-size="3.2" fill="#888" transform="rotate(-30 166.2 132.8)">10</text>
<line x1="179.7" y1="127.6" x2="179.7" y2="129.4" stroke="#666" stroke-width="0.7"/>
<text x="176.5" y="132.8" font-size="3.2" fill="#888" transform="rotate(-30 176.5 132.8)">10</text>
<line x1="190" y1="127.6" x2="190" y2="129.4" stroke="#666" stroke-width="0.7"/>
<text x="186.8" y="132.8" font-size="3.2" fill="#888" transform="rotate(-30 186.8 132.8)">10</text>
<line x1="200.3" y1="127.6" x2="200.3" y2="129.4" stroke="#666" stroke-width="0.7"/>
<text x="197.1" y="132.8" font-size="3.2" fill="#888" transform="rotate(-30 197.1 132.8)">10</text>
<line x1="210.6" y1="127.6" x2="210.6" y2="129.4" stroke="#666" stroke-width="0.7"/>
<text x="207.4" y="132.8" font-size="3.2" fill="#888" transform="rotate(-30 207.4 132.8)">10</text>
<g filter="url(#jet)">
<g opacity="0.4">
<ellipse cx="195.6" cy="103.3" rx="6.4" ry="13.6" fill="#fff"/>
<ellipse cx="187.2" cy="101.5" rx="4" ry="3.6" fill="#fff"/>
</g>
<g opacity="0.38">
<ellipse cx="195.2" cy="102.5" rx="5.26" ry="11.2" fill="#fff"/>
</g>
<g opacity="0.46">
<ellipse cx="195.1" cy="100.6" rx="2.88" ry="4.8" fill="#fff"/>
</g>
<g opacity="0.8">
<ellipse cx="195.1" cy="100.3" rx="1.56" ry="2.47" fill="#fff"/>
</g>
</g>
<ellipse cx="197" cy="127.6" rx="4" ry="1.05" fill="#1238ff"/>
<line x1="190.9" y1="83.4" x2="190.9" y2="128.2" stroke="#c6c6c6" stroke-width="1.2"/>
<line x1="167.9" y1="105.3" x2="212.7" y2="105.3" stroke="#505050" stroke-width="1"/>
<rect x="221.5" y="83.4" width="44.8" height="44.8" fill="none" stroke="#d4d4d4" stroke-width="0.8"/>
<line x1="221.5" y1="83.4" x2="221.5" y2="128.2" stroke="#c8c8c8" stroke-width="0.9"/>
<line x1="221.5" y1="128.2" x2="266.3" y2="128.2" stroke="#c8c8c8" stroke-width="0.9"/>
<line x1="220.3" y1="127.2" x2="222.1" y2="127.2" stroke="#666" stroke-width="0.7"/>
<text x="215.9" y="128.2" font-size="3.2" fill="#888">10</text>
<line x1="220.3" y1="116.8" x2="222.1" y2="116.8" stroke="#666" stroke-width="0.7"/>
<text x="215.9" y="117.8" font-size="3.2" fill="#888">10</text>
<line x1="220.3" y1="106.4" x2="222.1" y2="106.4" stroke="#666" stroke-width="0.7"/>
<text x="215.9" y="107.4" font-size="3.2" fill="#888">10</text>
<line x1="220.3" y1="96" x2="222.1" y2="96" stroke="#666" stroke-width="0.7"/>
<text x="215.9" y="97" font-size="3.2" fill="#888">10</text>
<line x1="220.3" y1="85.6" x2="222.1" y2="85.6" stroke="#666" stroke-width="0.7"/>
<text x="215.9" y="86.6" font-size="3.2" fill="#888">10</text>
<line x1="223" y1="127.6" x2="223" y2="129.4" stroke="#666" stroke-width="0.7"/>
<text x="219.8" y="132.8" font-size="3.2" fill="#888" transform="rotate(-30 219.8 132.8)">10</text>
<line x1="233.3" y1="127.6" x2="233.3" y2="129.4" stroke="#666" stroke-width="0.7"/>
<text x="230.1" y="132.8" font-size="3.2" fill="#888" transform="rotate(-30 230.1 132.8)">10</text>
<line x1="243.6" y1="127.6" x2="243.6" y2="129.4" stroke="#666" stroke-width="0.7"/>
<text x="240.4" y="132.8" font-size="3.2" fill="#888" transform="rotate(-30 240.4 132.8)">10</text>
<line x1="253.9" y1="127.6" x2="253.9" y2="129.4" stroke="#666" stroke-width="0.7"/>
<text x="250.7" y="132.8" font-size="3.2" fill="#888" transform="rotate(-30 250.7 132.8)">10</text>
<line x1="264.2" y1="127.6" x2="264.2" y2="129.4" stroke="#666" stroke-width="0.7"/>
<text x="261" y="132.8" font-size="3.2" fill="#888" transform="rotate(-30 261 132.8)">10</text>
<g filter="url(#jet)">
<g opacity="0.4">
<ellipse cx="245.8" cy="101" rx="6.8" ry="9" fill="#fff"/>
<ellipse cx="248.5" cy="109" rx="4.4" ry="7.5" fill="#fff"/>
</g>
<g opacity="0.38">
<ellipse cx="247" cy="102" rx="4.48" ry="8.06" fill="#fff"/>
</g>
<g opacity="0.46">
<ellipse cx="247.1" cy="100.6" rx="2.52" ry="4.08" fill="#fff"/>
</g>
<g opacity="0.8">
<ellipse cx="247.1" cy="100.5" rx="1.43" ry="2.21" fill="#fff"/>
</g>
</g>
<ellipse cx="248.5" cy="127.6" rx="1.5" ry="1.05" fill="#1238ff"/>
<line x1="244.5" y1="83.4" x2="244.5" y2="128.2" stroke="#c6c6c6" stroke-width="1.2"/>
<line x1="221.5" y1="105.3" x2="266.3" y2="105.3" stroke="#505050" stroke-width="1"/>
<rect x="60.8" y="205.9" width="44.8" height="44.8" fill="none" stroke="#d4d4d4" stroke-width="0.8"/>
<line x1="60.8" y1="205.9" x2="60.8" y2="250.7" stroke="#c8c8c8" stroke-width="0.9"/>
<line x1="60.8" y1="250.7" x2="105.6" y2="250.7" stroke="#c8c8c8" stroke-width="0.9"/>
<line x1="59.6" y1="249.7" x2="61.4" y2="249.7" stroke="#666" stroke-width="0.7"/>
<text x="55.2" y="250.7" font-size="3.2" fill="#888">10</text>
<line x1="59.6" y1="239.3" x2="61.4" y2="239.3" stroke="#666" stroke-width="0.7"/>
<text x="55.2" y="240.3" font-size="3.2" fill="#888">10</text>
<line x1="59.6" y1="228.9" x2="61.4" y2="228.9" stroke="#666" stroke-width="0.7"/>
<text x="55.2" y="229.9" font-size="3.2" fill="#888">10</text>
<line x1="59.6" y1="218.5" x2="61.4" y2="218.5" stroke="#666" stroke-width="0.7"/>
<text x="55.2" y="219.5" font-size="3.2" fill="#888">10</text>
<line x1="59.6" y1="208.1" x2="61.4" y2="208.1" stroke="#666" stroke-width="0.7"/>
<text x="55.2" y="209.1" font-size="3.2" fill="#888">10</text>
<line x1="62.3" y1="250.1" x2="62.3" y2="251.9" stroke="#666" stroke-width="0.7"/>
<text x="59.1" y="255.3" font-size="3.2" fill="#888" transform="rotate(-30 59.1 255.3)">10</text>
<line x1="72.6" y1="250.1" x2="72.6" y2="251.9" stroke="#666" stroke-width="0.7"/>
<text x="69.4" y="255.3" font-size="3.2" fill="#888" transform="rotate(-30 69.4 255.3)">10</text>
<line x1="82.9" y1="250.1" x2="82.9" y2="251.9" stroke="#666" stroke-width="0.7"/>
<text x="79.7" y="255.3" font-size="3.2" fill="#888" transform="rotate(-30 79.7 255.3)">10</text>
<line x1="93.2" y1="250.1" x2="93.2" y2="251.9" stroke="#666" stroke-width="0.7"/>
<text x="90" y="255.3" font-size="3.2" fill="#888" transform="rotate(-30 90 255.3)">10</text>
<line x1="103.5" y1="250.1" x2="103.5" y2="251.9" stroke="#666" stroke-width="0.7"/>
<text x="100.3" y="255.3" font-size="3.2" fill="#888" transform="rotate(-30 100.3 255.3)">10</text>
<g filter="url(#jet)">
<g opacity="0.44">
<ellipse cx="85.5" cy="228.3" rx="9.3" ry="10.4" fill="#fff"/>
<ellipse cx="89.5" cy="237.5" rx="4.8" ry="6.3" fill="#fff"/>
</g>
<g opacity="0.4">
<ellipse cx="87.6" cy="228.8" rx="6.9" ry="9.2" fill="#fff"/>
</g>
<g opacity="0.46">
<ellipse cx="89" cy="227.6" rx="3.9" ry="4.55" fill="#fff"/>
</g>
<g opacity="0.8">
<ellipse cx="89.3" cy="227.1" rx="1.96" ry="2.38" fill="#fff"/>
</g>
</g>
<ellipse cx="89.5" cy="250.1" rx="7.5" ry="1.05" fill="#1238ff"/>
<ellipse cx="92.2" cy="250.2" rx="3.25" ry="0.8" fill="#20d8e8"/>
<ellipse cx="92.2" cy="250.2" rx="2" ry="0.7" fill="#c8e020"/>
<ellipse cx="92.2" cy="250.2" rx="1.12" ry="0.6" fill="#ff3010"/>
<line x1="84.1" y1="205.9" x2="84.1" y2="250.7" stroke="#c6c6c6" stroke-width="1.2"/>
<line x1="60.8" y1="228.1" x2="105.6" y2="228.1" stroke="#505050" stroke-width="1"/>
<rect x="114.3" y="205.9" width="44.8" height="44.8" fill="none" stroke="#d4d4d4" stroke-width="0.8"/>
<line x1="114.3" y1="205.9" x2="114.3" y2="250.7" stroke="#c8c8c8" stroke-width="0.9"/>
<line x1="114.3" y1="250.7" x2="159.1" y2="250.7" stroke="#c8c8c8" stroke-width="0.9"/>
<line x1="113.1" y1="249.7" x2="114.9" y2="249.7" stroke="#666" stroke-width="0.7"/>
<text x="108.7" y="250.7" font-size="3.2" fill="#888">10</text>
<line x1="113.1" y1="239.3" x2="114.9" y2="239.3" stroke="#666" stroke-width="0.7"/>
<text x="108.7" y="240.3" font-size="3.2" fill="#888">10</text>
<line x1="113.1" y1="228.9" x2="114.9" y2="228.9" stroke="#666" stroke-width="0.7"/>
<text x="108.7" y="229.9" font-size="3.2" fill="#888">10</text>
<line x1="113.1" y1="218.5" x2="114.9" y2="218.5" stroke="#666" stroke-width="0.7"/>
<text x="108.7" y="219.5" font-size="3.2" fill="#888">10</text>
<line x1="113.1" y1="208.1" x2="114.9" y2="208.1" stroke="#666" stroke-width="0.7"/>
<text x="108.7" y="209.1" font-size="3.2" fill="#888">10</text>
<line x1="115.8" y1="250.1" x2="115.8" y2="251.9" stroke="#666" stroke-width="0.7"/>
<text x="112.6" y="255.3" font-size="3.2" fill="#888" transform="rotate(-30 112.6 255.3)">10</text>
<line x1="126.1" y1="250.1" x2="126.1" y2="251.9" stroke="#666" stroke-width="0.7"/>
<text x="122.9" y="255.3" font-size="3.2" fill="#888" transform="rotate(-30 122.9 255.3)">10</text>
<line x1="136.4" y1="250.1" x2="136.4" y2="251.9" stroke="#666" stroke-width="0.7"/>
<text x="133.2" y="255.3" font-size="3.2" fill="#888" transform="rotate(-30 133.2 255.3)">10</text>
<line x1="146.7" y1="250.1" x2="146.7" y2="251.9" stroke="#666" stroke-width="0.7"/>
<text x="143.5" y="255.3" font-size="3.2" fill="#888" transform="rotate(-30 143.5 255.3)">10</text>
<line x1="157" y1="250.1" x2="157" y2="251.9" stroke="#666" stroke-width="0.7"/>
<text x="153.8" y="255.3" font-size="3.2" fill="#888" transform="rotate(-30 153.8 255.3)">10</text>
<g filter="url(#jet)">
<g opacity="0.44">
<ellipse cx="136.5" cy="228.8" rx="11" ry="11.6" fill="#fff"/>
<ellipse cx="139" cy="237.5" rx="5" ry="6.3" fill="#fff"/>
</g>
<g opacity="0.4">
<ellipse cx="138.5" cy="229" rx="8.62" ry="9.77" fill="#fff"/>
</g>
<g opacity="0.46">
<ellipse cx="139.8" cy="228.6" rx="4.42" ry="5.2" fill="#fff"/>
</g>
<g opacity="0.8">
<ellipse cx="140" cy="228.2" rx="2.38" ry="2.94" fill="#fff"/>
</g>
</g>
<ellipse cx="141.7" cy="250.1" rx="6.3" ry="1.05" fill="#1238ff"/>
<ellipse cx="141.5" cy="250.2" rx="3.25" ry="0.8" fill="#20d8e8"/>
<line x1="137.6" y1="205.9" x2="137.6" y2="250.7" stroke="#505050" stroke-width="1"/>
<line x1="114.3" y1="228.1" x2="159.1" y2="228.1" stroke="#505050" stroke-width="1"/>
<rect x="167.9" y="205.9" width="44.8" height="44.8" fill="none" stroke="#d4d4d4" stroke-width="0.8"/>
<line x1="167.9" y1="205.9" x2="167.9" y2="250.7" stroke="#c8c8c8" stroke-width="0.9"/>
<line x1="167.9" y1="250.7" x2="212.7" y2="250.7" stroke="#c8c8c8" stroke-width="0.9"/>
<line x1="166.7" y1="249.7" x2="168.5" y2="249.7" stroke="#666" stroke-width="0.7"/>
<text x="162.3" y="250.7" font-size="3.2" fill="#888">10</text>
<line x1="166.7" y1="239.3" x2="168.5" y2="239.3" stroke="#666" stroke-width="0.7"/>
<text x="162.3" y="240.3" font-size="3.2" fill="#888">10</text>
<line x1="166.7" y1="228.9" x2="168.5" y2="228.9" stroke="#666" stroke-width="0.7"/>
<text x="162.3" y="229.9" font-size="3.2" fill="#888">10</text>
<line x1="166.7" y1="218.5" x2="168.5" y2="218.5" stroke="#666" stroke-width="0.7"/>
<text x="162.3" y="219.5" font-size="3.2" fill="#888">10</text>
<line x1="166.7" y1="208.1" x2="168.5" y2="208.1" stroke="#666" stroke-width="0.7"/>
<text x="162.3" y="209.1" font-size="3.2" fill="#888">10</text>
<line x1="169.4" y1="250.1" x2="169.4" y2="251.9" stroke="#666" stroke-width="0.7"/>
<text x="166.2" y="255.3" font-size="3.2" fill="#888" transform="rotate(-30 166.2 255.3)">10</text>
<line x1="179.7" y1="250.1" x2="179.7" y2="251.9" stroke="#666" stroke-width="0.7"/>
<text x="176.5" y="255.3" font-size="3.2" fill="#888" transform="rotate(-30 176.5 255.3)">10</text>
<line x1="190" y1="250.1" x2="190" y2="251.9" stroke="#666" stroke-width="0.7"/>
<text x="186.8" y="255.3" font-size="3.2" fill="#888" transform="rotate(-30 186.8 255.3)">10</text>
<line x1="200.3" y1="250.1" x2="200.3" y2="251.9" stroke="#666" stroke-width="0.7"/>
<text x="197.1" y="255.3" font-size="3.2" fill="#888" transform="rotate(-30 197.1 255.3)">10</text>
<line x1="210.6" y1="250.1" x2="210.6" y2="251.9" stroke="#666" stroke-width="0.7"/>
<text x="207.4" y="255.3" font-size="3.2" fill="#888" transform="rotate(-30 207.4 255.3)">10</text>
<g filter="url(#jet)">
<g opacity="0.44">
<ellipse cx="195.2" cy="229.5" rx="7.8" ry="13.5" fill="#fff"/>
<ellipse cx="187.5" cy="225" rx="3.4" ry="2.6" fill="#fff"/>
</g>
<g opacity="0.4">
<ellipse cx="196.6" cy="230.3" rx="5.75" ry="10.35" fill="#fff"/>
</g>
<g opacity="0.46">
<ellipse cx="197.6" cy="229.8" rx="3.12" ry="5.2" fill="#fff"/>
</g>
<g opacity="0.8">
<ellipse cx="198" cy="230.2" rx="1.68" ry="2.66" fill="#fff"/>
</g>
</g>
<ellipse cx="196" cy="250.1" rx="9" ry="1.05" fill="#1238ff"/>
<ellipse cx="199.6" cy="250.2" rx="2.86" ry="0.8" fill="#20d8e8"/>
<ellipse cx="199.6" cy="250.2" rx="1.76" ry="0.7" fill="#c8e020"/>
<ellipse cx="199.6" cy="250.2" rx="0.99" ry="0.6" fill="#ff3010"/>
<line x1="191.2" y1="205.9" x2="191.2" y2="250.7" stroke="#c6c6c6" stroke-width="1.2"/>
<line x1="167.9" y1="228.1" x2="212.7" y2="228.1" stroke="#505050" stroke-width="1"/>
<rect x="221.5" y="205.9" width="44.8" height="44.8" fill="none" stroke="#d4d4d4" stroke-width="0.8"/>
<line x1="221.5" y1="205.9" x2="221.5" y2="250.7" stroke="#c8c8c8" stroke-width="0.9"/>
<line x1="221.5" y1="250.7" x2="266.3" y2="250.7" stroke="#c8c8c8" stroke-width="0.9"/>
<line x1="220.3" y1="249.7" x2="222.1" y2="249.7" stroke="#666" stroke-width="0.7"/>
<text x="215.9" y="250.7" font-size="3.2" fill="#888">10</text>
<line x1="220.3" y1="239.3" x2="222.1" y2="239.3" stroke="#666" stroke-width="0.7"/>
<text x="215.9" y="240.3" font-size="3.2" fill="#888">10</text>
<line x1="220.3" y1="228.9" x2="222.1" y2="228.9" stroke="#666" stroke-width="0.7"/>
<text x="215.9" y="229.9" font-size="3.2" fill="#888">10</text>
<line x1="220.3" y1="218.5" x2="222.1" y2="218.5" stroke="#666" stroke-width="0.7"/>
<text x="215.9" y="219.5" font-size="3.2" fill="#888">10</text>
<line x1="220.3" y1="208.1" x2="222.1" y2="208.1" stroke="#666" stroke-width="0.7"/>
<text x="215.9" y="209.1" font-size="3.2" fill="#888">10</text>
<line x1="223" y1="250.1" x2="223" y2="251.9" stroke="#666" stroke-width="0.7"/>
<text x="219.8" y="255.3" font-size="3.2" fill="#888" transform="rotate(-30 219.8 255.3)">10</text>
<line x1="233.3" y1="250.1" x2="233.3" y2="251.9" stroke="#666" stroke-width="0.7"/>
<text x="230.1" y="255.3" font-size="3.2" fill="#888" transform="rotate(-30 230.1 255.3)">10</text>
<line x1="243.6" y1="250.1" x2="243.6" y2="251.9" stroke="#666" stroke-width="0.7"/>
<text x="240.4" y="255.3" font-size="3.2" fill="#888" transform="rotate(-30 240.4 255.3)">10</text>
<line x1="253.9" y1="250.1" x2="253.9" y2="251.9" stroke="#666" stroke-width="0.7"/>
<text x="250.7" y="255.3" font-size="3.2" fill="#888" transform="rotate(-30 250.7 255.3)">10</text>
<line x1="264.2" y1="250.1" x2="264.2" y2="251.9" stroke="#666" stroke-width="0.7"/>
<text x="261" y="255.3" font-size="3.2" fill="#888" transform="rotate(-30 261 255.3)">10</text>
<g filter="url(#jet)">
<g opacity="0.44">
<ellipse cx="246.3" cy="231.5" rx="9.9" ry="14" fill="#fff"/>
<ellipse cx="237.5" cy="225.3" rx="3" ry="2.2" fill="#fff"/>
</g>
<g opacity="0.4">
<ellipse cx="246.6" cy="232.2" rx="7.36" ry="11.5" fill="#fff"/>
</g>
<g opacity="0.46">
<ellipse cx="247.5" cy="232.3" rx="4.42" ry="5.2" fill="#fff"/>
</g>
<g opacity="0.8">
<ellipse cx="247.3" cy="232.2" rx="2.38" ry="2.94" fill="#fff"/>
</g>
</g>
<ellipse cx="248.5" cy="250.1" rx="7.5" ry="1.05" fill="#1238ff"/>
<ellipse cx="249" cy="250.2" rx="3.9" ry="0.8" fill="#20d8e8"/>
<line x1="244.8" y1="205.9" x2="244.8" y2="250.7" stroke="#505050" stroke-width="1"/>
<line x1="221.5" y1="228.1" x2="266.3" y2="228.1" stroke="#505050" stroke-width="1"/>
<rect x="60.8" y="261" width="44.8" height="44.8" fill="none" stroke="#d4d4d4" stroke-width="0.8"/>
<line x1="60.8" y1="261" x2="60.8" y2="305.8" stroke="#c8c8c8" stroke-width="0.9"/>
<line x1="60.8" y1="305.8" x2="105.6" y2="305.8" stroke="#c8c8c8" stroke-width="0.9"/>
<line x1="59.6" y1="304.8" x2="61.4" y2="304.8" stroke="#666" stroke-width="0.7"/>
<text x="55.2" y="305.8" font-size="3.2" fill="#888">10</text>
<line x1="59.6" y1="294.4" x2="61.4" y2="294.4" stroke="#666" stroke-width="0.7"/>
<text x="55.2" y="295.4" font-size="3.2" fill="#888">10</text>
<line x1="59.6" y1="284" x2="61.4" y2="284" stroke="#666" stroke-width="0.7"/>
<text x="55.2" y="285" font-size="3.2" fill="#888">10</text>
<line x1="59.6" y1="273.6" x2="61.4" y2="273.6" stroke="#666" stroke-width="0.7"/>
<text x="55.2" y="274.6" font-size="3.2" fill="#888">10</text>
<line x1="59.6" y1="263.2" x2="61.4" y2="263.2" stroke="#666" stroke-width="0.7"/>
<text x="55.2" y="264.2" font-size="3.2" fill="#888">10</text>
<line x1="62.3" y1="305.2" x2="62.3" y2="307" stroke="#666" stroke-width="0.7"/>
<text x="59.1" y="310.4" font-size="3.2" fill="#888" transform="rotate(-30 59.1 310.4)">10</text>
<line x1="72.6" y1="305.2" x2="72.6" y2="307" stroke="#666" stroke-width="0.7"/>
<text x="69.4" y="310.4" font-size="3.2" fill="#888" transform="rotate(-30 69.4 310.4)">10</text>
<line x1="82.9" y1="305.2" x2="82.9" y2="307" stroke="#666" stroke-width="0.7"/>
<text x="79.7" y="310.4" font-size="3.2" fill="#888" transform="rotate(-30 79.7 310.4)">10</text>
<line x1="93.2" y1="305.2" x2="93.2" y2="307" stroke="#666" stroke-width="0.7"/>
<text x="90" y="310.4" font-size="3.2" fill="#888" transform="rotate(-30 90 310.4)">10</text>
<line x1="103.5" y1="305.2" x2="103.5" y2="307" stroke="#666" stroke-width="0.7"/>
<text x="100.3" y="310.4" font-size="3.2" fill="#888" transform="rotate(-30 100.3 310.4)">10</text>
<g filter="url(#jet)">
<g opacity="0.44">
<ellipse cx="87" cy="282.3" rx="9.4" ry="11" fill="#fff"/>
<ellipse cx="90" cy="290" rx="4.5" ry="6.2" fill="#fff"/>
</g>
<g opacity="0.4">
<ellipse cx="88.5" cy="282.6" rx="6.9" ry="9.2" fill="#fff"/>
</g>
<g opacity="0.46">
<ellipse cx="89" cy="282" rx="3.51" ry="4.55" fill="#fff"/>
</g>
<g opacity="0.8">
<ellipse cx="89" cy="281.8" rx="1.82" ry="2.38" fill="#fff"/>
</g>
</g>
<ellipse cx="92.05" cy="305.2" rx="3.85" ry="1.05" fill="#1238ff"/>
<line x1="84.1" y1="261" x2="84.1" y2="305.8" stroke="#c6c6c6" stroke-width="1.2"/>
<line x1="60.8" y1="282.6" x2="105.6" y2="282.6" stroke="#c6c6c6" stroke-width="1.2"/>
<rect x="114.3" y="261" width="44.8" height="44.8" fill="none" stroke="#d4d4d4" stroke-width="0.8"/>
<line x1="114.3" y1="261" x2="114.3" y2="305.8" stroke="#c8c8c8" stroke-width="0.9"/>
<line x1="114.3" y1="305.8" x2="159.1" y2="305.8" stroke="#c8c8c8" stroke-width="0.9"/>
<line x1="113.1" y1="304.8" x2="114.9" y2="304.8" stroke="#666" stroke-width="0.7"/>
<text x="108.7" y="305.8" font-size="3.2" fill="#888">10</text>
<line x1="113.1" y1="294.4" x2="114.9" y2="294.4" stroke="#666" stroke-width="0.7"/>
<text x="108.7" y="295.4" font-size="3.2" fill="#888">10</text>
<line x1="113.1" y1="284" x2="114.9" y2="284" stroke="#666" stroke-width="0.7"/>
<text x="108.7" y="285" font-size="3.2" fill="#888">10</text>
<line x1="113.1" y1="273.6" x2="114.9" y2="273.6" stroke="#666" stroke-width="0.7"/>
<text x="108.7" y="274.6" font-size="3.2" fill="#888">10</text>
<line x1="113.1" y1="263.2" x2="114.9" y2="263.2" stroke="#666" stroke-width="0.7"/>
<text x="108.7" y="264.2" font-size="3.2" fill="#888">10</text>
<line x1="115.8" y1="305.2" x2="115.8" y2="307" stroke="#666" stroke-width="0.7"/>
<text x="112.6" y="310.4" font-size="3.2" fill="#888" transform="rotate(-30 112.6 310.4)">10</text>
<line x1="126.1" y1="305.2" x2="126.1" y2="307" stroke="#666" stroke-width="0.7"/>
<text x="122.9" y="310.4" font-size="3.2" fill="#888" transform="rotate(-30 122.9 310.4)">10</text>
<line x1="136.4" y1="305.2" x2="136.4" y2="307" stroke="#666" stroke-width="0.7"/>
<text x="133.2" y="310.4" font-size="3.2" fill="#888" transform="rotate(-30 133.2 310.4)">10</text>
<line x1="146.7" y1="305.2" x2="146.7" y2="307" stroke="#666" stroke-width="0.7"/>
<text x="143.5" y="310.4" font-size="3.2" fill="#888" transform="rotate(-30 143.5 310.4)">10</text>
<line x1="157" y1="305.2" x2="157" y2="307" stroke="#666" stroke-width="0.7"/>
<text x="153.8" y="310.4" font-size="3.2" fill="#888" transform="rotate(-30 153.8 310.4)">10</text>
<g filter="url(#jet)">
<g opacity="0.44">
<ellipse cx="139" cy="281" rx="8.4" ry="11" fill="#fff"/>
</g>
<g opacity="0.4">
<ellipse cx="140" cy="281.6" rx="6.32" ry="8.62" fill="#fff"/>
</g>
<g opacity="0.46">
<ellipse cx="140.5" cy="281.6" rx="3.25" ry="4.55" fill="#fff"/>
</g>
<g opacity="0.8">
<ellipse cx="140.8" cy="281.8" rx="1.82" ry="2.38" fill="#fff"/>
</g>
</g>
<ellipse cx="140.5" cy="305.2" rx="1.5" ry="1.05" fill="#1238ff"/>
<line x1="137.6" y1="261" x2="137.6" y2="305.8" stroke="#505050" stroke-width="1"/>
<line x1="114.3" y1="282.6" x2="159.1" y2="282.6" stroke="#c6c6c6" stroke-width="1.2"/>
<rect x="167.9" y="261" width="44.8" height="44.8" fill="none" stroke="#d4d4d4" stroke-width="0.8"/>
<line x1="167.9" y1="261" x2="167.9" y2="305.8" stroke="#c8c8c8" stroke-width="0.9"/>
<line x1="167.9" y1="305.8" x2="212.7" y2="305.8" stroke="#c8c8c8" stroke-width="0.9"/>
<line x1="166.7" y1="304.8" x2="168.5" y2="304.8" stroke="#666" stroke-width="0.7"/>
<text x="162.3" y="305.8" font-size="3.2" fill="#888">10</text>
<line x1="166.7" y1="294.4" x2="168.5" y2="294.4" stroke="#666" stroke-width="0.7"/>
<text x="162.3" y="295.4" font-size="3.2" fill="#888">10</text>
<line x1="166.7" y1="284" x2="168.5" y2="284" stroke="#666" stroke-width="0.7"/>
<text x="162.3" y="285" font-size="3.2" fill="#888">10</text>
<line x1="166.7" y1="273.6" x2="168.5" y2="273.6" stroke="#666" stroke-width="0.7"/>
<text x="162.3" y="274.6" font-size="3.2" fill="#888">10</text>
<line x1="166.7" y1="263.2" x2="168.5" y2="263.2" stroke="#666" stroke-width="0.7"/>
<text x="162.3" y="264.2" font-size="3.2" fill="#888">10</text>
<line x1="169.4" y1="305.2" x2="169.4" y2="307" stroke="#666" stroke-width="0.7"/>
<text x="166.2" y="310.4" font-size="3.2" fill="#888" transform="rotate(-30 166.2 310.4)">10</text>
<line x1="179.7" y1="305.2" x2="179.7" y2="307" stroke="#666" stroke-width="0.7"/>
<text x="176.5" y="310.4" font-size="3.2" fill="#888" transform="rotate(-30 176.5 310.4)">10</text>
<line x1="190" y1="305.2" x2="190" y2="307" stroke="#666" stroke-width="0.7"/>
<text x="186.8" y="310.4" font-size="3.2" fill="#888" transform="rotate(-30 186.8 310.4)">10</text>
<line x1="200.3" y1="305.2" x2="200.3" y2="307" stroke="#666" stroke-width="0.7"/>
<text x="197.1" y="310.4" font-size="3.2" fill="#888" transform="rotate(-30 197.1 310.4)">10</text>
<line x1="210.6" y1="305.2" x2="210.6" y2="307" stroke="#666" stroke-width="0.7"/>
<text x="207.4" y="310.4" font-size="3.2" fill="#888" transform="rotate(-30 207.4 310.4)">10</text>
<g filter="url(#jet)">
<g opacity="0.44">
<ellipse cx="193.2" cy="281.6" rx="10" ry="12.5" fill="#fff"/>
</g>
<g opacity="0.4">
<ellipse cx="195" cy="282.2" rx="7.36" ry="10.35" fill="#fff"/>
</g>
<g opacity="0.46">
<ellipse cx="196.5" cy="282.6" rx="3.51" ry="5.2" fill="#fff"/>
</g>
<g opacity="0.8">
<ellipse cx="196.8" cy="282.6" rx="1.82" ry="2.66" fill="#fff"/>
</g>
</g>
<ellipse cx="198.65" cy="305.2" rx="5.25" ry="1.05" fill="#1238ff"/>
<line x1="191.2" y1="261" x2="191.2" y2="305.8" stroke="#c6c6c6" stroke-width="1.2"/>
<line x1="167.9" y1="282.6" x2="212.7" y2="282.6" stroke="#c6c6c6" stroke-width="1.2"/>
<rect x="221.5" y="261" width="44.8" height="44.8" fill="none" stroke="#d4d4d4" stroke-width="0.8"/>
<line x1="221.5" y1="261" x2="221.5" y2="305.8" stroke="#c8c8c8" stroke-width="0.9"/>
<line x1="221.5" y1="305.8" x2="266.3" y2="305.8" stroke="#c8c8c8" stroke-width="0.9"/>
<line x1="220.3" y1="304.8" x2="222.1" y2="304.8" stroke="#666" stroke-width="0.7"/>
<text x="215.9" y="305.8" font-size="3.2" fill="#888">10</text>
<line x1="220.3" y1="294.4" x2="222.1" y2="294.4" stroke="#666" stroke-width="0.7"/>
<text x="215.9" y="295.4" font-size="3.2" fill="#888">10</text>
<line x1="220.3" y1="284" x2="222.1" y2="284" stroke="#666" stroke-width="0.7"/>
<text x="215.9" y="285" font-size="3.2" fill="#888">10</text>
<line x1="220.3" y1="273.6" x2="222.1" y2="273.6" stroke="#666" stroke-width="0.7"/>
<text x="215.9" y="274.6" font-size="3.2" fill="#888">10</text>
<line x1="220.3" y1="263.2" x2="222.1" y2="263.2" stroke="#666" stroke-width="0.7"/>
<text x="215.9" y="264.2" font-size="3.2" fill="#888">10</text>
<line x1="223" y1="305.2" x2="223" y2="307" stroke="#666" stroke-width="0.7"/>
<text x="219.8" y="310.4" font-size="3.2" fill="#888" transform="rotate(-30 219.8 310.4)">10</text>
<line x1="233.3" y1="305.2" x2="233.3" y2="307" stroke="#666" stroke-width="0.7"/>
<text x="230.1" y="310.4" font-size="3.2" fill="#888" transform="rotate(-30 230.1 310.4)">10</text>
<line x1="243.6" y1="305.2" x2="243.6" y2="307" stroke="#666" stroke-width="0.7"/>
<text x="240.4" y="310.4" font-size="3.2" fill="#888" transform="rotate(-30 240.4 310.4)">10</text>
<line x1="253.9" y1="305.2" x2="253.9" y2="307" stroke="#666" stroke-width="0.7"/>
<text x="250.7" y="310.4" font-size="3.2" fill="#888" transform="rotate(-30 250.7 310.4)">10</text>
<line x1="264.2" y1="305.2" x2="264.2" y2="307" stroke="#666" stroke-width="0.7"/>
<text x="261" y="310.4" font-size="3.2" fill="#888" transform="rotate(-30 261 310.4)">10</text>
<g filter="url(#jet)">
<g opacity="0.44">
<ellipse cx="245.6" cy="281.2" rx="9.4" ry="11.5" fill="#fff"/>
<ellipse cx="249" cy="289" rx="4" ry="5.3" fill="#fff"/>
</g>
<g opacity="0.4">
<ellipse cx="247.5" cy="282.2" rx="6.9" ry="9.77" fill="#fff"/>
</g>
<g opacity="0.46">
<ellipse cx="248.5" cy="282" rx="3.38" ry="4.94" fill="#fff"/>
</g>
<g opacity="0.8">
<ellipse cx="248.5" cy="281.8" rx="1.82" ry="2.66" fill="#fff"/>
</g>
</g>
<ellipse cx="252.25" cy="305.2" rx="4.65" ry="1.05" fill="#1238ff"/>
<line x1="244.8" y1="261" x2="244.8" y2="305.8" stroke="#505050" stroke-width="1"/>
<line x1="221.5" y1="282.6" x2="266.3" y2="282.6" stroke="#c6c6c6" stroke-width="1.2"/>
<ellipse cx="61.4" cy="40.8" rx="0.8" ry="1.1" fill="#1030ff"/>
<ellipse cx="114.6" cy="41.8" rx="0.5" ry="0.8" fill="#1030ff"/>
<ellipse cx="114.6" cy="219.2" rx="0.6" ry="0.8" fill="#1030ff"/>
<ellipse cx="114.6" cy="237.4" rx="0.4" ry="0.5" fill="#1030ff"/>
<ellipse cx="222.2" cy="224" rx="0.9" ry="2" fill="#1030ff"/>
<ellipse cx="140.3" cy="245.2" rx="0.9" ry="1.4" fill="#1030ff"/>
<ellipse cx="169" cy="117" rx="0.5" ry="0.5" fill="#1030ff"/>
<ellipse cx="197.8" cy="246.5" rx="0.8" ry="1.6" fill="#1030ff"/>
<text x="83.2" y="22" font-size="10.4" text-anchor="middle">Donor 1</text>
<text x="83.2" y="197.7" font-size="10.4" text-anchor="middle">Donor 1</text>
<text x="136.7" y="22" font-size="10.4" text-anchor="middle">Donor 2</text>
<text x="136.7" y="197.7" font-size="10.4" text-anchor="middle">Donor 2</text>
<text x="190.3" y="22" font-size="10.4" text-anchor="middle">Donor 3</text>
<text x="190.3" y="197.7" font-size="10.4" text-anchor="middle">Donor 3</text>
<text x="243.9" y="22" font-size="10.4" text-anchor="middle">Donor 4</text>
<text x="243.9" y="197.7" font-size="10.4" text-anchor="middle">Donor 4</text>
<text x="31.9" y="50.6" font-size="10.4" text-anchor="middle" transform="rotate(-90 31.9 50.6)">mC2 CAR-T</text>
<text x="31.9" y="110.4" font-size="10.4" text-anchor="middle" transform="rotate(-90 31.9 110.4)">hC2 CAR-T</text>
<text x="53.3" y="45" font-size="10.2" text-anchor="middle" transform="rotate(-90 53.3 45)">CCR7</text>
<line x1="49.8" y1="128" x2="49.8" y2="75" stroke="#666" stroke-width="1.4"/>
<path d="M49.8 67.3 L47.4 76 L52.2 76 Z" fill="#222"/>
<line x1="60" y1="141.9" x2="208" y2="141.9" stroke="#666" stroke-width="1.4"/>
<path d="M215.8 141.9 L207 139.6 L207 144.2 Z" fill="#222"/>
<text x="221.6" y="145.6" font-size="10.4">CD45RO</text>
<text x="24.5" y="227.3" font-size="10.2" text-anchor="middle" transform="rotate(-90 24.5 227.3)">mC2 CAR-T</text>
<text x="37.1" y="227.4" font-size="10.2" text-anchor="middle" transform="rotate(-90 37.1 227.4)">JeKo-1</text>
<text x="24.5" y="288.2" font-size="10.2" text-anchor="middle" transform="rotate(-90 24.5 288.2)">hC2 CAR-T</text>
<text x="37.1" y="288" font-size="10.2" text-anchor="middle" transform="rotate(-90 37.1 288)">JeKo-1</text>
<text x="53.3" y="221.8" font-size="10.2" text-anchor="middle" transform="rotate(-90 53.3 221.8)">CCR7</text>
<line x1="49.8" y1="304" x2="49.8" y2="252" stroke="#666" stroke-width="1.4"/>
<path d="M49.8 244.2 L47.4 253 L52.2 253 Z" fill="#222"/>
<line x1="61.3" y1="317" x2="208" y2="317" stroke="#666" stroke-width="1.4"/>
<path d="M215.8 317 L207 314.7 L207 319.3 Z" fill="#222"/>
<text x="221.6" y="320.7" font-size="10.4">CD45RO</text>
<text x="22.3" y="738.9" font-size="10.4">NSG mice</text>
<line x1="76" y1="735.7" x2="449" y2="735.7" stroke="#333" stroke-width="1.1"/>
<path d="M457.2 735.7 L447.4 733.3 L447.4 738.1 Z" fill="#222"/>
<line x1="118.4" y1="731.6" x2="118.4" y2="739.8" stroke="#333" stroke-width="1.1"/>
<text x="118.4" y="728.9" font-size="10.4" text-anchor="middle">-6</text>
<line x1="184.1" y1="731.6" x2="184.1" y2="739.8" stroke="#333" stroke-width="1.1"/>
<text x="184.1" y="728.9" font-size="10.4" text-anchor="middle">-4</text>
<line x1="250.3" y1="731.6" x2="250.3" y2="739.8" stroke="#333" stroke-width="1.1"/>
<text x="250.3" y="728.9" font-size="10.4" text-anchor="middle">0</text>
<line x1="281.2" y1="731.6" x2="281.2" y2="739.8" stroke="#333" stroke-width="1.1"/>
<text x="281.2" y="728.9" font-size="10.4" text-anchor="middle">2</text>
<line x1="313.3" y1="731.6" x2="313.3" y2="739.8" stroke="#333" stroke-width="1.1"/>
<text x="313.3" y="728.9" font-size="10.4" text-anchor="middle">4</text>
<line x1="344.7" y1="731.6" x2="344.7" y2="739.8" stroke="#333" stroke-width="1.1"/>
<text x="344.7" y="728.9" font-size="10.4" text-anchor="middle">6</text>
<line x1="375.9" y1="731.6" x2="375.9" y2="739.8" stroke="#333" stroke-width="1.1"/>
<text x="375.9" y="728.9" font-size="10.4" text-anchor="middle">8</text>
<text x="398.8" y="728.9" font-size="10.4">Weeks</text>
<text x="118.4" y="752.3" font-size="10.4" text-anchor="middle">JeKo-1</text>
<text x="118.4" y="764.4" font-size="10.4" text-anchor="middle">1&#215;10<tspan font-size="6.5" dy="-3.8">6</tspan><tspan dy="3.8">/mouse</tspan></text>
<text x="118.4" y="776.8" font-size="10.4" text-anchor="middle">s.c.</text>
<text x="184.6" y="752.3" font-size="10.4" text-anchor="middle">CAR-T cells</text>
<text x="184.6" y="764.4" font-size="10.4" text-anchor="middle">4&#215;10<tspan font-size="6.5" dy="-3.8">6</tspan><tspan dy="3.8">/mouse</tspan></text>
<text x="184.6" y="776.8" font-size="10.4" text-anchor="middle">i.v.</text>
<text x="250.3" y="752.3" font-size="10.4" text-anchor="middle">Rechallenge</text>
<text x="344.6" y="752.3" font-size="10.4" text-anchor="middle">Tumor volume</text>
<text x="344.6" y="764.4" font-size="10.4" text-anchor="middle">Survival monitoring</text>
<line x1="60.4" y1="812.8" x2="60.4" y2="898.8" stroke="#1a1a1a" stroke-width="1.25"/>
<line x1="57.2" y1="898.2" x2="145.9" y2="898.2" stroke="#1a1a1a" stroke-width="1.25"/>
<line x1="56.8" y1="898.2" x2="60.4" y2="898.2" stroke="#1a1a1a" stroke-width="1.25"/>
<text x="54.4" y="900.8" font-size="10.2" text-anchor="end">0</text>
<line x1="56.8" y1="869.93" x2="60.4" y2="869.93" stroke="#1a1a1a" stroke-width="1.25"/>
<text x="54.4" y="872.53" font-size="10.2" text-anchor="end">500</text>
<line x1="56.8" y1="841.67" x2="60.4" y2="841.67" stroke="#1a1a1a" stroke-width="1.25"/>
<text x="54.4" y="844.27" font-size="10.2" text-anchor="end">1000</text>
<line x1="56.8" y1="813.4" x2="60.4" y2="813.4" stroke="#1a1a1a" stroke-width="1.25"/>
<text x="54.4" y="816" font-size="10.2" text-anchor="end">1500</text>
<line x1="60.4" y1="898.2" x2="60.4" y2="902" stroke="#1a1a1a" stroke-width="1.25"/>
<text x="60.9" y="911.2" font-size="9.6" text-anchor="middle">0</text>
<line x1="81.68" y1="898.2" x2="81.68" y2="902" stroke="#1a1a1a" stroke-width="1.25"/>
<text x="82.18" y="911.2" font-size="9.6" text-anchor="middle">1</text>
<line x1="102.96" y1="898.2" x2="102.96" y2="902" stroke="#1a1a1a" stroke-width="1.25"/>
<text x="103.46" y="911.2" font-size="9.6" text-anchor="middle">2</text>
<line x1="124.24" y1="898.2" x2="124.24" y2="902" stroke="#1a1a1a" stroke-width="1.25"/>
<text x="124.74" y="911.2" font-size="9.6" text-anchor="middle">3</text>
<line x1="145.52" y1="898.2" x2="145.52" y2="902" stroke="#1a1a1a" stroke-width="1.25"/>
<text x="146.02" y="911.2" font-size="9.6" text-anchor="middle">4</text>
<text x="103.1" y="924.4" font-size="10.4" text-anchor="middle">Weeks</text>
<text x="28.8" y="855.5" font-size="10.4" text-anchor="middle" transform="rotate(-90 28.8 855.5)">Tumor volume (mm<tspan font-size="6.5" dy="-3.8">3</tspan><tspan dy="3.8">)</tspan></text>
<polyline points="60.4,898.2 81.68,895.6 102.96,896.9 124.24,897.4 145.52,897.6" fill="none" stroke="#2f9bf0" stroke-width="1.9"/>
<polyline points="60.4,898.2 81.68,895.2 102.96,887.6 124.24,878.8 145.52,849.3" fill="none" stroke="#ff2a1a" stroke-width="1.3"/>
<line x1="102.96" y1="884.7" x2="102.96" y2="891.2" stroke="#ff2a1a" stroke-width="1.1"/>
<line x1="100.66" y1="884.7" x2="105.26" y2="884.7" stroke="#ff2a1a" stroke-width="1.1"/>
<line x1="100.66" y1="891.2" x2="105.26" y2="891.2" stroke="#ff2a1a" stroke-width="1.1"/>
<line x1="124.24" y1="872.6" x2="124.24" y2="884.7" stroke="#ff2a1a" stroke-width="1.1"/>
<line x1="121.94" y1="872.6" x2="126.54" y2="872.6" stroke="#ff2a1a" stroke-width="1.1"/>
<line x1="121.94" y1="884.7" x2="126.54" y2="884.7" stroke="#ff2a1a" stroke-width="1.1"/>
<line x1="145.52" y1="834.3" x2="145.52" y2="865.4" stroke="#ff2a1a" stroke-width="1.1"/>
<line x1="143.22" y1="834.3" x2="147.82" y2="834.3" stroke="#ff2a1a" stroke-width="1.1"/>
<line x1="143.22" y1="865.4" x2="147.82" y2="865.4" stroke="#ff2a1a" stroke-width="1.1"/>
<polyline points="60.4,898.2 81.68,895.2 102.96,888.3 124.24,878.8 145.52,839.4" fill="none" stroke="#111" stroke-width="1.3"/>
<line x1="102.96" y1="886.6" x2="102.96" y2="890" stroke="#111" stroke-width="1.1"/>
<line x1="100.66" y1="886.6" x2="105.26" y2="886.6" stroke="#111" stroke-width="1.1"/>
<line x1="100.66" y1="890" x2="105.26" y2="890" stroke="#111" stroke-width="1.1"/>
<line x1="124.24" y1="876.4" x2="124.24" y2="882" stroke="#111" stroke-width="1.1"/>
<line x1="121.94" y1="876.4" x2="126.54" y2="876.4" stroke="#111" stroke-width="1.1"/>
<line x1="121.94" y1="882" x2="126.54" y2="882" stroke="#111" stroke-width="1.1"/>
<line x1="145.52" y1="829.9" x2="145.52" y2="848.2" stroke="#111" stroke-width="1.1"/>
<line x1="143.22" y1="829.9" x2="147.82" y2="829.9" stroke="#111" stroke-width="1.1"/>
<line x1="143.22" y1="848.2" x2="147.82" y2="848.2" stroke="#111" stroke-width="1.1"/>
<circle cx="81.68" cy="895.3" r="1.4" fill="#111"/>
<text x="66.6" y="868.4" font-size="8.8" fill="#151515">mC2 vs hC2</text>
<text x="66.6" y="878.6" font-size="8.8" fill="#151515"><tspan font-style="italic">p</tspan>=0.0003</text>
<line x1="66.8" y1="943.8" x2="77.7" y2="943.8" stroke="#333" stroke-width="1.6"/>
<text x="82.8" y="946.8" font-size="10.4">Ctrl</text>
<line x1="66.8" y1="954.4" x2="77.7" y2="954.4" stroke="#f05050" stroke-width="1.6"/>
<text x="82.8" y="957.4" font-size="10.4">mC2 CAR-T</text>
<line x1="66.8" y1="965" x2="77.7" y2="965" stroke="#50a8f5" stroke-width="1.6"/>
<text x="82.8" y="968" font-size="10.4">hC2 CAR-T</text>
<polyline points="230.3,808.7 319.5,808.7" fill="none" stroke="#3aa4f5" stroke-width="1.5"/>
<polyline points="230.3,808.7 278.6,808.7 278.6,826.6 282.8,826.6 282.8,844.5 284.5,844.5 284.5,862.4 289.1,862.4 289.1,880.3 319.5,880.3" fill="none" stroke="#ff2a1a" stroke-width="1.3"/>
<polyline points="230.3,808.7 277,808.7 277,826.6 278.6,826.6 278.6,844.5 279.8,844.5 279.8,862.4 284.5,862.4 284.5,880.3 286.1,880.3 286.1,898.2" fill="none" stroke="#111" stroke-width="1.3" stroke-opacity="0.82"/>
<line x1="230.3" y1="808.1" x2="230.3" y2="898.8" stroke="#1a1a1a" stroke-width="1.25"/>
<line x1="227.1" y1="898.2" x2="320" y2="898.2" stroke="#1a1a1a" stroke-width="1.25"/>
<line x1="226.7" y1="898.2" x2="230.3" y2="898.2" stroke="#1a1a1a" stroke-width="1.25"/>
<text x="224.4" y="902.6" font-size="10.2" text-anchor="end">0</text>
<line x1="226.7" y1="875.83" x2="230.3" y2="875.83" stroke="#1a1a1a" stroke-width="1.25"/>
<text x="224.4" y="880.23" font-size="10.2" text-anchor="end">25</text>
<line x1="226.7" y1="853.45" x2="230.3" y2="853.45" stroke="#1a1a1a" stroke-width="1.25"/>
<text x="224.4" y="857.85" font-size="10.2" text-anchor="end">50</text>
<line x1="226.7" y1="831.08" x2="230.3" y2="831.08" stroke="#1a1a1a" stroke-width="1.25"/>
<text x="224.4" y="835.48" font-size="10.2" text-anchor="end">75</text>
<line x1="226.7" y1="808.7" x2="230.3" y2="808.7" stroke="#1a1a1a" stroke-width="1.25"/>
<text x="224.4" y="813.6" font-size="10.2" text-anchor="end">100</text>
<line x1="230.3" y1="898.2" x2="230.3" y2="902" stroke="#1a1a1a" stroke-width="1.25"/>
<text x="230.6" y="912.6" font-size="9.6" text-anchor="middle">0</text>
<line x1="241.45" y1="898.2" x2="241.45" y2="902" stroke="#1a1a1a" stroke-width="1.25"/>
<text x="241.75" y="912.6" font-size="9.6" text-anchor="middle">1</text>
<line x1="252.6" y1="898.2" x2="252.6" y2="902" stroke="#1a1a1a" stroke-width="1.25"/>
<text x="252.9" y="912.6" font-size="9.6" text-anchor="middle">2</text>
<line x1="263.75" y1="898.2" x2="263.75" y2="902" stroke="#1a1a1a" stroke-width="1.25"/>
<text x="264.05" y="912.6" font-size="9.6" text-anchor="middle">3</text>
<line x1="274.9" y1="898.2" x2="274.9" y2="902" stroke="#1a1a1a" stroke-width="1.25"/>
<text x="275.2" y="912.6" font-size="9.6" text-anchor="middle">4</text>
<line x1="286.05" y1="898.2" x2="286.05" y2="902" stroke="#1a1a1a" stroke-width="1.25"/>
<text x="286.35" y="912.6" font-size="9.6" text-anchor="middle">5</text>
<line x1="297.2" y1="898.2" x2="297.2" y2="902" stroke="#1a1a1a" stroke-width="1.25"/>
<text x="297.5" y="912.6" font-size="9.6" text-anchor="middle">6</text>
<line x1="308.35" y1="898.2" x2="308.35" y2="902" stroke="#1a1a1a" stroke-width="1.25"/>
<text x="308.65" y="912.6" font-size="9.6" text-anchor="middle">7</text>
<line x1="319.5" y1="898.2" x2="319.5" y2="902" stroke="#1a1a1a" stroke-width="1.25"/>
<text x="319.8" y="912.6" font-size="9.6" text-anchor="middle">8</text>
<circle cx="319.5" cy="808.7" r="0.9" fill="#111"/>
<circle cx="319.5" cy="880.3" r="0.9" fill="#111"/>
<text x="274.3" y="923.6" font-size="10.4" text-anchor="middle">Weeks</text>
<text x="203.4" y="854.5" font-size="10.4" text-anchor="middle" transform="rotate(-90 203.4 854.5)">Percent survival (%)</text>
<text x="234" y="878.4" font-size="8.8" fill="#151515">mC2 vs hC2</text>
<text x="234.0" y="888.4" font-size="8.8" fill="#151515"><tspan font-style="italic">p</tspan>=0.0133</text>
<line x1="237.6" y1="943.8" x2="248.5" y2="943.8" stroke="#333" stroke-width="1.6"/>
<text x="253.6" y="946.8" font-size="10.4">Ctrl</text>
<line x1="237.6" y1="954.4" x2="248.5" y2="954.4" stroke="#f05050" stroke-width="1.6"/>
<text x="253.6" y="957.4" font-size="10.4">mC2 CAR-T</text>
<line x1="237.6" y1="965" x2="248.5" y2="965" stroke="#50a8f5" stroke-width="1.6"/>
<text x="253.6" y="968" font-size="10.4">hC2 CAR-T</text>
<line x1="400.2" y1="806.3" x2="400.2" y2="895.1" stroke="#1a1a1a" stroke-width="1.25"/>
<line x1="399.6" y1="894.5" x2="458.5" y2="894.5" stroke="#1a1a1a" stroke-width="1.25"/>
<line x1="396.6" y1="894.5" x2="400.2" y2="894.5" stroke="#1a1a1a" stroke-width="1.25"/>
<text x="394.7" y="899" font-size="10.2" text-anchor="end">0</text>
<line x1="396.6" y1="872.6" x2="400.2" y2="872.6" stroke="#1a1a1a" stroke-width="1.25"/>
<text x="394.7" y="877.1" font-size="10.2" text-anchor="end">1</text>
<line x1="396.6" y1="850.7" x2="400.2" y2="850.7" stroke="#1a1a1a" stroke-width="1.25"/>
<text x="394.7" y="855.2" font-size="10.2" text-anchor="end">2</text>
<line x1="396.6" y1="828.8" x2="400.2" y2="828.8" stroke="#1a1a1a" stroke-width="1.25"/>
<text x="394.7" y="833.3" font-size="10.2" text-anchor="end">3</text>
<line x1="396.6" y1="806.9" x2="400.2" y2="806.9" stroke="#1a1a1a" stroke-width="1.25"/>
<text x="394.7" y="811.7" font-size="10.2" text-anchor="end">4</text>
<line x1="412.5" y1="894.5" x2="412.5" y2="898.3" stroke="#1a1a1a" stroke-width="1.25"/>
<line x1="430.1" y1="894.5" x2="430.1" y2="898.3" stroke="#1a1a1a" stroke-width="1.25"/>
<line x1="447.4" y1="894.5" x2="447.4" y2="898.3" stroke="#1a1a1a" stroke-width="1.25"/>
<text x="427.3" y="795.5" font-size="10.4" text-anchor="middle">Blood</text>
<text x="383.9" y="851.4" font-size="10.4" text-anchor="middle" transform="rotate(-90 383.9 851.4)">Percentage (%)</text>
<line x1="424.3" y1="876.7" x2="435.8" y2="876.7" stroke="#3a3a3a" stroke-width="1.5"/>
<line x1="442.4" y1="845.5" x2="453.1" y2="845.5" stroke="#3a3a3a" stroke-width="1.5"/>
<circle cx="408.6" cy="894.5" r="2.15" fill="#8c8c8c" stroke="#000" stroke-width="0.85"/>
<circle cx="410.6" cy="894.5" r="2.15" fill="#8c8c8c" stroke="#000" stroke-width="0.85"/>
<circle cx="412.6" cy="894.5" r="2.15" fill="#8c8c8c" stroke="#000" stroke-width="0.85"/>
<circle cx="414.6" cy="894.5" r="2.15" fill="#8c8c8c" stroke="#000" stroke-width="0.85"/>
<circle cx="416.4" cy="894.5" r="2.15" fill="#8c8c8c" stroke="#000" stroke-width="0.85"/>
<circle cx="430.1" cy="859" r="2.15" fill="#ff2200" stroke="#000" stroke-width="0.85"/>
<circle cx="430.1" cy="875.7" r="2.15" fill="#ff2200" stroke="#000" stroke-width="0.85"/>
<circle cx="430.1" cy="880.8" r="2.15" fill="#ff2200" stroke="#000" stroke-width="0.85"/>
<circle cx="426.3" cy="884.6" r="2.15" fill="#ff2200" stroke="#000" stroke-width="0.85"/>
<circle cx="433.6" cy="883.6" r="2.15" fill="#ff2200" stroke="#000" stroke-width="0.85"/>
<circle cx="443.6" cy="824.5" r="2.15" fill="#1a90ff" stroke="#000" stroke-width="0.85"/>
<circle cx="451.3" cy="827.6" r="2.15" fill="#1a90ff" stroke="#000" stroke-width="0.85"/>
<circle cx="447.4" cy="840.2" r="2.15" fill="#1a90ff" stroke="#000" stroke-width="0.85"/>
<circle cx="443.6" cy="869" r="2.15" fill="#1a90ff" stroke="#000" stroke-width="0.85"/>
<circle cx="451.3" cy="865" r="2.15" fill="#1a90ff" stroke="#000" stroke-width="0.85"/>
<text x="439.6" y="815" font-size="8.6" text-anchor="middle" fill="#151515"><tspan font-style="italic">p</tspan>=0.0224</text>
<line x1="427.5" y1="817.5" x2="449.6" y2="817.5" stroke="#3a3a3a" stroke-width="1"/>
<text x="419.4" y="906.4" font-size="10.4" text-anchor="end" transform="rotate(-45 419.4 906.4)">Ctrl</text>
<text x="437" y="906.4" font-size="10.4" text-anchor="end" transform="rotate(-45 437 906.4)">mC2 CAR-T</text>
<text x="454.3" y="906.4" font-size="10.4" text-anchor="end" transform="rotate(-45 454.3 906.4)">hC2 CAR-T</text>
<line x1="513.4" y1="805.9" x2="513.4" y2="895.1" stroke="#1a1a1a" stroke-width="1.25"/>
<line x1="512.8" y1="894.5" x2="571.6" y2="894.5" stroke="#1a1a1a" stroke-width="1.25"/>
<line x1="509.8" y1="894.5" x2="513.4" y2="894.5" stroke="#1a1a1a" stroke-width="1.25"/>
<text x="508.5" y="899" font-size="10.2" text-anchor="end">0</text>
<line x1="509.8" y1="876.9" x2="513.4" y2="876.9" stroke="#1a1a1a" stroke-width="1.25"/>
<text x="508.5" y="881.4" font-size="10.2" text-anchor="end">0.5</text>
<line x1="509.8" y1="859.3" x2="513.4" y2="859.3" stroke="#1a1a1a" stroke-width="1.25"/>
<text x="508.5" y="863.8" font-size="10.2" text-anchor="end">1.0</text>
<line x1="509.8" y1="841.7" x2="513.4" y2="841.7" stroke="#1a1a1a" stroke-width="1.25"/>
<text x="508.5" y="846.2" font-size="10.2" text-anchor="end">1.5</text>
<line x1="509.8" y1="824.1" x2="513.4" y2="824.1" stroke="#1a1a1a" stroke-width="1.25"/>
<text x="508.5" y="828.6" font-size="10.2" text-anchor="end">2.0</text>
<line x1="509.8" y1="806.5" x2="513.4" y2="806.5" stroke="#1a1a1a" stroke-width="1.25"/>
<text x="508.5" y="811.3" font-size="10.2" text-anchor="end">2.5</text>
<line x1="525.5" y1="894.5" x2="525.5" y2="898.3" stroke="#1a1a1a" stroke-width="1.25"/>
<line x1="542.8" y1="894.5" x2="542.8" y2="898.3" stroke="#1a1a1a" stroke-width="1.25"/>
<line x1="560.4" y1="894.5" x2="560.4" y2="898.3" stroke="#1a1a1a" stroke-width="1.25"/>
<text x="542.3" y="795.5" font-size="10.4" text-anchor="middle">Lymph node</text>
<text x="489.4" y="851.4" font-size="10.4" text-anchor="middle" transform="rotate(-90 489.4 851.4)">Percentage (%)</text>
<line x1="537" y1="873.1" x2="548.5" y2="873.1" stroke="#3a3a3a" stroke-width="1.5"/>
<line x1="558.2" y1="844.1" x2="566.6" y2="844.1" stroke="#3a3a3a" stroke-width="1.5"/>
<circle cx="522.1" cy="894.5" r="2.15" fill="#8c8c8c" stroke="#000" stroke-width="0.85"/>
<circle cx="524" cy="894.5" r="2.15" fill="#8c8c8c" stroke="#000" stroke-width="0.85"/>
<circle cx="526" cy="894.5" r="2.15" fill="#8c8c8c" stroke="#000" stroke-width="0.85"/>
<circle cx="528" cy="894.5" r="2.15" fill="#8c8c8c" stroke="#000" stroke-width="0.85"/>
<circle cx="529" cy="894.5" r="2.15" fill="#8c8c8c" stroke="#000" stroke-width="0.85"/>
<circle cx="542.6" cy="863.1" r="2.15" fill="#ff2200" stroke="#000" stroke-width="0.85"/>
<circle cx="546.5" cy="868.1" r="2.15" fill="#ff2200" stroke="#000" stroke-width="0.85"/>
<circle cx="539.2" cy="872" r="2.15" fill="#ff2200" stroke="#000" stroke-width="0.85"/>
<circle cx="546.5" cy="873.6" r="2.15" fill="#ff2200" stroke="#000" stroke-width="0.85"/>
<circle cx="542.8" cy="892.1" r="2.15" fill="#ff2200" stroke="#000" stroke-width="0.85"/>
<circle cx="560.4" cy="824.8" r="2.15" fill="#1a90ff" stroke="#000" stroke-width="0.85"/>
<circle cx="556.5" cy="839.6" r="2.15" fill="#1a90ff" stroke="#000" stroke-width="0.85"/>
<circle cx="564.1" cy="838.4" r="2.15" fill="#1a90ff" stroke="#000" stroke-width="0.85"/>
<circle cx="560.4" cy="844.3" r="2.15" fill="#1a90ff" stroke="#000" stroke-width="0.85"/>
<circle cx="560.4" cy="874.3" r="2.15" fill="#1a90ff" stroke="#000" stroke-width="0.85"/>
<text x="549.3" y="812.8" font-size="8.6" text-anchor="middle" fill="#151515"><tspan font-style="italic">p</tspan>=0.0028</text>
<line x1="538.9" y1="815.5" x2="560.7" y2="815.5" stroke="#3a3a3a" stroke-width="1"/>
<text x="532.4" y="906.4" font-size="10.4" text-anchor="end" transform="rotate(-45 532.4 906.4)">Ctrl</text>
<text x="549.7" y="906.4" font-size="10.4" text-anchor="end" transform="rotate(-45 549.7 906.4)">mC2 CAR-T</text>
<text x="567.3" y="906.4" font-size="10.4" text-anchor="end" transform="rotate(-45 567.3 906.4)">hC2 CAR-T</text>
<line x1="626.2" y1="805.9" x2="626.2" y2="895.1" stroke="#1a1a1a" stroke-width="1.25"/>
<line x1="625.6" y1="894.5" x2="684.5" y2="894.5" stroke="#1a1a1a" stroke-width="1.25"/>
<line x1="622.6" y1="894.5" x2="626.2" y2="894.5" stroke="#1a1a1a" stroke-width="1.25"/>
<text x="621.3" y="899" font-size="10.2" text-anchor="end">0</text>
<line x1="622.6" y1="876.9" x2="626.2" y2="876.9" stroke="#1a1a1a" stroke-width="1.25"/>
<text x="621.3" y="881.4" font-size="10.2" text-anchor="end">0.2</text>
<line x1="622.6" y1="859.3" x2="626.2" y2="859.3" stroke="#1a1a1a" stroke-width="1.25"/>
<text x="621.3" y="863.8" font-size="10.2" text-anchor="end">0.4</text>
<line x1="622.6" y1="841.7" x2="626.2" y2="841.7" stroke="#1a1a1a" stroke-width="1.25"/>
<text x="621.3" y="846.2" font-size="10.2" text-anchor="end">0.6</text>
<line x1="622.6" y1="824.1" x2="626.2" y2="824.1" stroke="#1a1a1a" stroke-width="1.25"/>
<text x="621.3" y="828.6" font-size="10.2" text-anchor="end">0.8</text>
<line x1="622.6" y1="806.5" x2="626.2" y2="806.5" stroke="#1a1a1a" stroke-width="1.25"/>
<text x="621.3" y="811.3" font-size="10.2" text-anchor="end">1.0</text>
<line x1="638" y1="894.5" x2="638" y2="898.3" stroke="#1a1a1a" stroke-width="1.25"/>
<line x1="655.6" y1="894.5" x2="655.6" y2="898.3" stroke="#1a1a1a" stroke-width="1.25"/>
<line x1="673.2" y1="894.5" x2="673.2" y2="898.3" stroke="#1a1a1a" stroke-width="1.25"/>
<text x="654.4" y="795.5" font-size="10.4" text-anchor="middle">Spleen</text>
<text x="602.2" y="851.4" font-size="10.4" text-anchor="middle" transform="rotate(-90 602.2 851.4)">Percentage (%)</text>
<line x1="650.2" y1="882.4" x2="661.5" y2="882.4" stroke="#3a3a3a" stroke-width="1.5"/>
<line x1="667.9" y1="839.2" x2="679.1" y2="839.2" stroke="#3a3a3a" stroke-width="1.5"/>
<circle cx="634.6" cy="894.5" r="2.15" fill="#8c8c8c" stroke="#000" stroke-width="0.85"/>
<circle cx="636.6" cy="894.5" r="2.15" fill="#8c8c8c" stroke="#000" stroke-width="0.85"/>
<circle cx="638.6" cy="894.5" r="2.15" fill="#8c8c8c" stroke="#000" stroke-width="0.85"/>
<circle cx="640.6" cy="894.5" r="2.15" fill="#8c8c8c" stroke="#000" stroke-width="0.85"/>
<circle cx="641.3" cy="894.5" r="2.15" fill="#8c8c8c" stroke="#000" stroke-width="0.85"/>
<circle cx="655.6" cy="852.7" r="2.15" fill="#ff2200" stroke="#000" stroke-width="0.85"/>
<circle cx="655.6" cy="884.4" r="2.15" fill="#ff2200" stroke="#000" stroke-width="0.85"/>
<circle cx="655.6" cy="890.4" r="2.15" fill="#ff2200" stroke="#000" stroke-width="0.85"/>
<circle cx="659.8" cy="892.1" r="2.15" fill="#ff2200" stroke="#000" stroke-width="0.85"/>
<circle cx="651.9" cy="894.5" r="2.15" fill="#ff2200" stroke="#000" stroke-width="0.85"/>
<circle cx="673.2" cy="821.6" r="2.15" fill="#1a90ff" stroke="#000" stroke-width="0.85"/>
<circle cx="673.2" cy="832.5" r="2.15" fill="#1a90ff" stroke="#000" stroke-width="0.85"/>
<circle cx="673.2" cy="842.1" r="2.15" fill="#1a90ff" stroke="#000" stroke-width="0.85"/>
<circle cx="673.2" cy="848.5" r="2.15" fill="#1a90ff" stroke="#000" stroke-width="0.85"/>
<circle cx="673.2" cy="852.7" r="2.15" fill="#1a90ff" stroke="#000" stroke-width="0.85"/>
<text x="663" y="812" font-size="8.6" text-anchor="middle" fill="#151515"><tspan font-style="italic">p</tspan>=0.0022</text>
<line x1="652.3" y1="814.5" x2="674.4" y2="814.5" stroke="#3a3a3a" stroke-width="1"/>
<text x="644.9" y="906.4" font-size="10.4" text-anchor="end" transform="rotate(-45 644.9 906.4)">Ctrl</text>
<text x="662.5" y="906.4" font-size="10.4" text-anchor="end" transform="rotate(-45 662.5 906.4)">mC2 CAR-T</text>
<text x="680.1" y="906.4" font-size="10.4" text-anchor="end" transform="rotate(-45 680.1 906.4)">hC2 CAR-T</text>
</svg>
</body></html>
